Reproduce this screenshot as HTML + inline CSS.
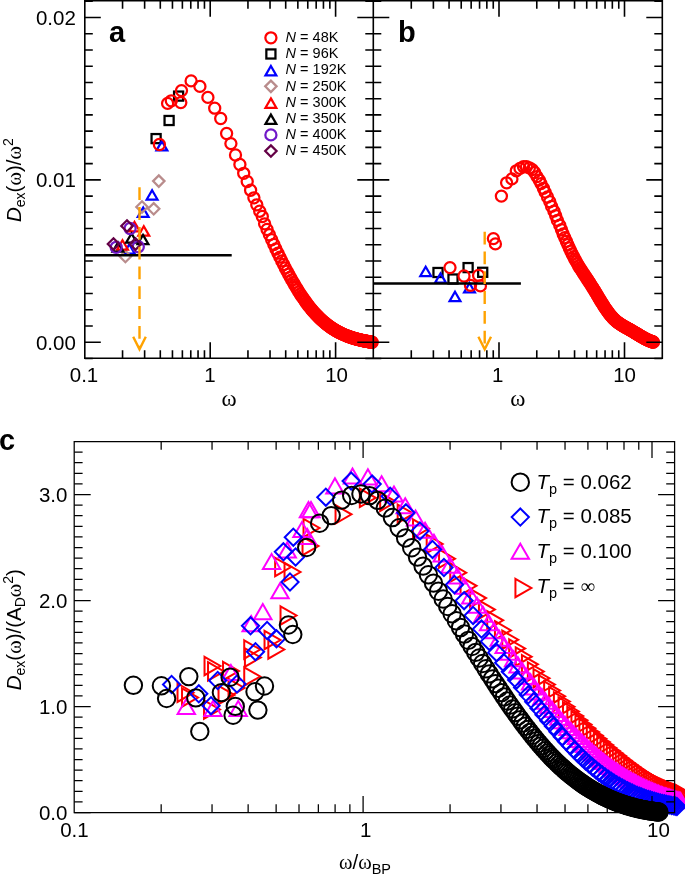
<!DOCTYPE html><html><head><meta charset="utf-8"><title>figure</title><style>html,body{margin:0;padding:0;background:#fff;overflow:hidden;}svg{display:block;will-change:transform;}text{font-family:"Liberation Sans",sans-serif;}</style></head><body>
<svg width="685" height="875" viewBox="0 0 685 875">
<rect x="151.55" y="134.05" width="9.1" height="9.1" stroke="#000" stroke-width="2.25" fill="none"/><rect x="164.55" y="115.95" width="9.1" height="9.1" stroke="#000" stroke-width="2.25" fill="none"/><rect x="174.05" y="91.55" width="9.1" height="9.1" stroke="#000" stroke-width="2.25" fill="none"/><path d="M161.9 141.09L167.3 150.44L156.5 150.44Z" stroke="#0000ff" stroke-width="2.25" fill="none"/><path d="M152.1 190.19L157.5 199.54L146.7 199.54Z" stroke="#0000ff" stroke-width="2.25" fill="none"/><path d="M143.2 207.49L148.6 216.84L137.8 216.84Z" stroke="#0000ff" stroke-width="2.25" fill="none"/><path d="M129.3 244.29L134.7 253.64L123.9 253.64Z" stroke="#0000ff" stroke-width="2.25" fill="none"/><path d="M158.8 175.4L164.5 181.1L158.8 186.8L153.1 181.1Z" stroke="#b98c8c" stroke-width="2.25" fill="none"/><path d="M142 201.3L147.7 207L142 212.7L136.3 207Z" stroke="#b98c8c" stroke-width="2.25" fill="none"/><path d="M153.7 203.1L159.4 208.8L153.7 214.5L148 208.8Z" stroke="#b98c8c" stroke-width="2.25" fill="none"/><path d="M125.4 250.8L131.1 256.5L125.4 262.2L119.7 256.5Z" stroke="#b98c8c" stroke-width="2.25" fill="none"/><path d="M122.5 240.19L127.9 249.54L117.1 249.54Z" stroke="#ff0000" stroke-width="2.25" fill="none"/><path d="M134.5 222.09L139.9 231.44L129.1 231.44Z" stroke="#ff0000" stroke-width="2.25" fill="none"/><path d="M143.8 226.29L149.2 235.64L138.4 235.64Z" stroke="#ff0000" stroke-width="2.25" fill="none"/><path d="M118 242.39L123.4 251.74L112.6 251.74Z" stroke="#000" stroke-width="2.25" fill="none"/><path d="M131.5 233.39L136.9 242.74L126.1 242.74Z" stroke="#000" stroke-width="2.25" fill="none"/><path d="M143 234.89L148.4 244.24L137.6 244.24Z" stroke="#000" stroke-width="2.25" fill="none"/><circle cx="116.2" cy="247.3" r="5.55" stroke="#7018c8" stroke-width="2.25" fill="none"/><circle cx="130.1" cy="228.5" r="5.55" stroke="#7018c8" stroke-width="2.25" fill="none"/><circle cx="138.3" cy="246.7" r="5.55" stroke="#7018c8" stroke-width="2.25" fill="none"/><path d="M113.5 238.3L119.2 244L113.5 249.7L107.8 244Z" stroke="#640046" stroke-width="2.25" fill="none"/><path d="M127 220.3L132.7 226L127 231.7L121.3 226Z" stroke="#640046" stroke-width="2.25" fill="none"/><path d="M135.5 238.4L141.2 244.1L135.5 249.8L129.8 244.1Z" stroke="#640046" stroke-width="2.25" fill="none"/><circle cx="159.4" cy="144.5" r="5.55" stroke="#ff0000" stroke-width="2.25" fill="none"/><circle cx="167.6" cy="103.4" r="5.55" stroke="#ff0000" stroke-width="2.25" fill="none"/><circle cx="171.3" cy="100.8" r="5.55" stroke="#ff0000" stroke-width="2.25" fill="none"/><circle cx="180.8" cy="102.6" r="5.55" stroke="#ff0000" stroke-width="2.25" fill="none"/><circle cx="181.5" cy="90.6" r="5.55" stroke="#ff0000" stroke-width="2.25" fill="none"/><circle cx="191.1" cy="80.9" r="5.55" stroke="#ff0000" stroke-width="2.25" fill="none"/><circle cx="199.9" cy="86.4" r="5.55" stroke="#ff0000" stroke-width="2.25" fill="none"/><circle cx="207.9" cy="97.4" r="5.55" stroke="#ff0000" stroke-width="2.25" fill="none"/><circle cx="214.7" cy="108.2" r="5.55" stroke="#ff0000" stroke-width="2.25" fill="none"/><circle cx="220.7" cy="118.5" r="5.55" stroke="#ff0000" stroke-width="2.25" fill="none"/><circle cx="226.6" cy="133.5" r="5.55" stroke="#ff0000" stroke-width="2.25" fill="none"/><circle cx="230.9" cy="143.6" r="5.55" stroke="#ff0000" stroke-width="2.25" fill="none"/><circle cx="235.5" cy="155" r="5.55" stroke="#ff0000" stroke-width="2.25" fill="none"/><circle cx="239.9" cy="164.5" r="5.55" stroke="#ff0000" stroke-width="2.25" fill="none"/><circle cx="243.7" cy="173.3" r="5.55" stroke="#ff0000" stroke-width="2.25" fill="none"/><circle cx="247.2" cy="181.5" r="5.55" stroke="#ff0000" stroke-width="2.25" fill="none"/><circle cx="250.6" cy="190.2" r="5.55" stroke="#ff0000" stroke-width="2.25" fill="none"/><circle cx="253.9" cy="197.8" r="5.55" stroke="#ff0000" stroke-width="2.25" fill="none"/><circle cx="256.8" cy="204.8" r="5.55" stroke="#ff0000" stroke-width="2.25" fill="none"/><circle cx="259.7" cy="211.2" r="5.55" stroke="#ff0000" stroke-width="2.25" fill="none"/><circle cx="262.3" cy="216.5" r="5.55" stroke="#ff0000" stroke-width="2.25" fill="none"/><circle cx="264.6" cy="223.81" r="5.55" stroke="#ff0000" stroke-width="2.25" fill="none"/><circle cx="267.06" cy="229.45" r="5.55" stroke="#ff0000" stroke-width="2.25" fill="none"/><circle cx="269.42" cy="234.76" r="5.55" stroke="#ff0000" stroke-width="2.25" fill="none"/><circle cx="271.68" cy="239.77" r="5.55" stroke="#ff0000" stroke-width="2.25" fill="none"/><circle cx="273.85" cy="244.49" r="5.55" stroke="#ff0000" stroke-width="2.25" fill="none"/><circle cx="275.94" cy="248.95" r="5.55" stroke="#ff0000" stroke-width="2.25" fill="none"/><circle cx="277.95" cy="253.16" r="5.55" stroke="#ff0000" stroke-width="2.25" fill="none"/><circle cx="279.89" cy="257.15" r="5.55" stroke="#ff0000" stroke-width="2.25" fill="none"/><circle cx="281.76" cy="260.93" r="5.55" stroke="#ff0000" stroke-width="2.25" fill="none"/><circle cx="283.57" cy="264.51" r="5.55" stroke="#ff0000" stroke-width="2.25" fill="none"/><circle cx="285.32" cy="267.91" r="5.55" stroke="#ff0000" stroke-width="2.25" fill="none"/><circle cx="287.02" cy="271.14" r="5.55" stroke="#ff0000" stroke-width="2.25" fill="none"/><circle cx="288.66" cy="274.21" r="5.55" stroke="#ff0000" stroke-width="2.25" fill="none"/><circle cx="290.26" cy="277.12" r="5.55" stroke="#ff0000" stroke-width="2.25" fill="none"/><circle cx="291.81" cy="279.89" r="5.55" stroke="#ff0000" stroke-width="2.25" fill="none"/><circle cx="293.32" cy="282.53" r="5.55" stroke="#ff0000" stroke-width="2.25" fill="none"/><circle cx="294.79" cy="285.04" r="5.55" stroke="#ff0000" stroke-width="2.25" fill="none"/><circle cx="296.22" cy="287.43" r="5.55" stroke="#ff0000" stroke-width="2.25" fill="none"/><circle cx="297.61" cy="289.71" r="5.55" stroke="#ff0000" stroke-width="2.25" fill="none"/><circle cx="298.97" cy="291.88" r="5.55" stroke="#ff0000" stroke-width="2.25" fill="none"/><circle cx="300.29" cy="293.94" r="5.55" stroke="#ff0000" stroke-width="2.25" fill="none"/><circle cx="301.59" cy="295.91" r="5.55" stroke="#ff0000" stroke-width="2.25" fill="none"/><circle cx="302.85" cy="297.79" r="5.55" stroke="#ff0000" stroke-width="2.25" fill="none"/><circle cx="304.08" cy="299.58" r="5.55" stroke="#ff0000" stroke-width="2.25" fill="none"/><circle cx="305.29" cy="301.29" r="5.55" stroke="#ff0000" stroke-width="2.25" fill="none"/><circle cx="306.47" cy="302.92" r="5.55" stroke="#ff0000" stroke-width="2.25" fill="none"/><circle cx="307.63" cy="304.47" r="5.55" stroke="#ff0000" stroke-width="2.25" fill="none"/><circle cx="308.76" cy="305.95" r="5.55" stroke="#ff0000" stroke-width="2.25" fill="none"/><circle cx="309.87" cy="307.36" r="5.55" stroke="#ff0000" stroke-width="2.25" fill="none"/><circle cx="310.96" cy="308.7" r="5.55" stroke="#ff0000" stroke-width="2.25" fill="none"/><circle cx="312.02" cy="309.98" r="5.55" stroke="#ff0000" stroke-width="2.25" fill="none"/><circle cx="313.07" cy="311.21" r="5.55" stroke="#ff0000" stroke-width="2.25" fill="none"/><circle cx="314.09" cy="312.37" r="5.55" stroke="#ff0000" stroke-width="2.25" fill="none"/><circle cx="315.1" cy="313.49" r="5.55" stroke="#ff0000" stroke-width="2.25" fill="none"/><circle cx="316.09" cy="314.56" r="5.55" stroke="#ff0000" stroke-width="2.25" fill="none"/><circle cx="317.06" cy="315.58" r="5.55" stroke="#ff0000" stroke-width="2.25" fill="none"/><circle cx="318.01" cy="316.55" r="5.55" stroke="#ff0000" stroke-width="2.25" fill="none"/><circle cx="318.95" cy="317.49" r="5.55" stroke="#ff0000" stroke-width="2.25" fill="none"/><circle cx="319.87" cy="318.38" r="5.55" stroke="#ff0000" stroke-width="2.25" fill="none"/><circle cx="320.78" cy="319.24" r="5.55" stroke="#ff0000" stroke-width="2.25" fill="none"/><circle cx="321.67" cy="320.06" r="5.55" stroke="#ff0000" stroke-width="2.25" fill="none"/><circle cx="322.55" cy="320.85" r="5.55" stroke="#ff0000" stroke-width="2.25" fill="none"/><circle cx="323.41" cy="321.61" r="5.55" stroke="#ff0000" stroke-width="2.25" fill="none"/><circle cx="324.26" cy="322.33" r="5.55" stroke="#ff0000" stroke-width="2.25" fill="none"/><circle cx="325.1" cy="323.03" r="5.55" stroke="#ff0000" stroke-width="2.25" fill="none"/><circle cx="325.92" cy="323.7" r="5.55" stroke="#ff0000" stroke-width="2.25" fill="none"/><circle cx="326.73" cy="324.34" r="5.55" stroke="#ff0000" stroke-width="2.25" fill="none"/><circle cx="327.53" cy="324.96" r="5.55" stroke="#ff0000" stroke-width="2.25" fill="none"/><circle cx="328.32" cy="325.56" r="5.55" stroke="#ff0000" stroke-width="2.25" fill="none"/><circle cx="329.1" cy="326.13" r="5.55" stroke="#ff0000" stroke-width="2.25" fill="none"/><circle cx="329.86" cy="326.68" r="5.55" stroke="#ff0000" stroke-width="2.25" fill="none"/><circle cx="330.62" cy="327.21" r="5.55" stroke="#ff0000" stroke-width="2.25" fill="none"/><circle cx="331.36" cy="327.72" r="5.55" stroke="#ff0000" stroke-width="2.25" fill="none"/><circle cx="332.1" cy="328.21" r="5.55" stroke="#ff0000" stroke-width="2.25" fill="none"/><circle cx="332.82" cy="328.68" r="5.55" stroke="#ff0000" stroke-width="2.25" fill="none"/><circle cx="333.54" cy="329.14" r="5.55" stroke="#ff0000" stroke-width="2.25" fill="none"/><circle cx="334.25" cy="329.58" r="5.55" stroke="#ff0000" stroke-width="2.25" fill="none"/><circle cx="334.94" cy="330" r="5.55" stroke="#ff0000" stroke-width="2.25" fill="none"/><circle cx="335.63" cy="330.41" r="5.55" stroke="#ff0000" stroke-width="2.25" fill="none"/><circle cx="336.31" cy="330.81" r="5.55" stroke="#ff0000" stroke-width="2.25" fill="none"/><circle cx="336.98" cy="331.19" r="5.55" stroke="#ff0000" stroke-width="2.25" fill="none"/><circle cx="337.65" cy="331.55" r="5.55" stroke="#ff0000" stroke-width="2.25" fill="none"/><circle cx="338.3" cy="331.91" r="5.55" stroke="#ff0000" stroke-width="2.25" fill="none"/><circle cx="338.95" cy="332.25" r="5.55" stroke="#ff0000" stroke-width="2.25" fill="none"/><circle cx="339.59" cy="332.58" r="5.55" stroke="#ff0000" stroke-width="2.25" fill="none"/><circle cx="340.22" cy="332.9" r="5.55" stroke="#ff0000" stroke-width="2.25" fill="none"/><circle cx="340.85" cy="333.21" r="5.55" stroke="#ff0000" stroke-width="2.25" fill="none"/><circle cx="341.47" cy="333.51" r="5.55" stroke="#ff0000" stroke-width="2.25" fill="none"/><circle cx="342.08" cy="333.8" r="5.55" stroke="#ff0000" stroke-width="2.25" fill="none"/><circle cx="342.68" cy="334.08" r="5.55" stroke="#ff0000" stroke-width="2.25" fill="none"/><circle cx="343.28" cy="334.35" r="5.55" stroke="#ff0000" stroke-width="2.25" fill="none"/><circle cx="343.87" cy="334.61" r="5.55" stroke="#ff0000" stroke-width="2.25" fill="none"/><circle cx="344.46" cy="334.86" r="5.55" stroke="#ff0000" stroke-width="2.25" fill="none"/><circle cx="345.03" cy="335.11" r="5.55" stroke="#ff0000" stroke-width="2.25" fill="none"/><circle cx="345.61" cy="335.35" r="5.55" stroke="#ff0000" stroke-width="2.25" fill="none"/><circle cx="346.17" cy="335.58" r="5.55" stroke="#ff0000" stroke-width="2.25" fill="none"/><circle cx="346.73" cy="335.8" r="5.55" stroke="#ff0000" stroke-width="2.25" fill="none"/><circle cx="347.29" cy="336.02" r="5.55" stroke="#ff0000" stroke-width="2.25" fill="none"/><circle cx="347.84" cy="336.23" r="5.55" stroke="#ff0000" stroke-width="2.25" fill="none"/><circle cx="348.38" cy="336.43" r="5.55" stroke="#ff0000" stroke-width="2.25" fill="none"/><circle cx="348.92" cy="336.63" r="5.55" stroke="#ff0000" stroke-width="2.25" fill="none"/><circle cx="349.45" cy="336.82" r="5.55" stroke="#ff0000" stroke-width="2.25" fill="none"/><circle cx="349.98" cy="337" r="5.55" stroke="#ff0000" stroke-width="2.25" fill="none"/><circle cx="350.51" cy="337.18" r="5.55" stroke="#ff0000" stroke-width="2.25" fill="none"/><circle cx="351.02" cy="337.36" r="5.55" stroke="#ff0000" stroke-width="2.25" fill="none"/><circle cx="351.54" cy="337.53" r="5.55" stroke="#ff0000" stroke-width="2.25" fill="none"/><circle cx="352.05" cy="337.69" r="5.55" stroke="#ff0000" stroke-width="2.25" fill="none"/><circle cx="352.55" cy="337.85" r="5.55" stroke="#ff0000" stroke-width="2.25" fill="none"/><circle cx="353.05" cy="338.01" r="5.55" stroke="#ff0000" stroke-width="2.25" fill="none"/><circle cx="353.54" cy="338.16" r="5.55" stroke="#ff0000" stroke-width="2.25" fill="none"/><circle cx="354.03" cy="338.31" r="5.55" stroke="#ff0000" stroke-width="2.25" fill="none"/><circle cx="354.52" cy="338.45" r="5.55" stroke="#ff0000" stroke-width="2.25" fill="none"/><circle cx="355" cy="338.59" r="5.55" stroke="#ff0000" stroke-width="2.25" fill="none"/><circle cx="355.48" cy="338.73" r="5.55" stroke="#ff0000" stroke-width="2.25" fill="none"/><circle cx="355.95" cy="338.86" r="5.55" stroke="#ff0000" stroke-width="2.25" fill="none"/><circle cx="356.42" cy="338.99" r="5.55" stroke="#ff0000" stroke-width="2.25" fill="none"/><circle cx="356.89" cy="339.11" r="5.55" stroke="#ff0000" stroke-width="2.25" fill="none"/><circle cx="357.35" cy="339.23" r="5.55" stroke="#ff0000" stroke-width="2.25" fill="none"/><circle cx="357.8" cy="339.35" r="5.55" stroke="#ff0000" stroke-width="2.25" fill="none"/><circle cx="358.26" cy="339.47" r="5.55" stroke="#ff0000" stroke-width="2.25" fill="none"/><circle cx="358.71" cy="339.58" r="5.55" stroke="#ff0000" stroke-width="2.25" fill="none"/><circle cx="359.15" cy="339.69" r="5.55" stroke="#ff0000" stroke-width="2.25" fill="none"/><circle cx="359.6" cy="339.8" r="5.55" stroke="#ff0000" stroke-width="2.25" fill="none"/><circle cx="360.03" cy="339.9" r="5.55" stroke="#ff0000" stroke-width="2.25" fill="none"/><circle cx="360.47" cy="340" r="5.55" stroke="#ff0000" stroke-width="2.25" fill="none"/><circle cx="360.9" cy="340.1" r="5.55" stroke="#ff0000" stroke-width="2.25" fill="none"/><circle cx="361.33" cy="340.2" r="5.55" stroke="#ff0000" stroke-width="2.25" fill="none"/><circle cx="361.76" cy="340.3" r="5.55" stroke="#ff0000" stroke-width="2.25" fill="none"/><circle cx="362.18" cy="340.39" r="5.55" stroke="#ff0000" stroke-width="2.25" fill="none"/><circle cx="362.6" cy="340.48" r="5.55" stroke="#ff0000" stroke-width="2.25" fill="none"/><circle cx="363.01" cy="340.57" r="5.55" stroke="#ff0000" stroke-width="2.25" fill="none"/><circle cx="363.42" cy="340.66" r="5.55" stroke="#ff0000" stroke-width="2.25" fill="none"/><circle cx="363.83" cy="340.74" r="5.55" stroke="#ff0000" stroke-width="2.25" fill="none"/><circle cx="364.24" cy="340.82" r="5.55" stroke="#ff0000" stroke-width="2.25" fill="none"/><circle cx="364.64" cy="340.91" r="5.55" stroke="#ff0000" stroke-width="2.25" fill="none"/><circle cx="365.04" cy="340.99" r="5.55" stroke="#ff0000" stroke-width="2.25" fill="none"/><circle cx="365.44" cy="341.06" r="5.55" stroke="#ff0000" stroke-width="2.25" fill="none"/><circle cx="365.83" cy="341.14" r="5.55" stroke="#ff0000" stroke-width="2.25" fill="none"/><circle cx="366.23" cy="341.22" r="5.55" stroke="#ff0000" stroke-width="2.25" fill="none"/><circle cx="366.61" cy="341.29" r="5.55" stroke="#ff0000" stroke-width="2.25" fill="none"/><circle cx="367" cy="341.36" r="5.55" stroke="#ff0000" stroke-width="2.25" fill="none"/><circle cx="367.38" cy="341.43" r="5.55" stroke="#ff0000" stroke-width="2.25" fill="none"/><circle cx="367.76" cy="341.5" r="5.55" stroke="#ff0000" stroke-width="2.25" fill="none"/><circle cx="368.14" cy="341.57" r="5.55" stroke="#ff0000" stroke-width="2.25" fill="none"/><circle cx="368.52" cy="341.64" r="5.55" stroke="#ff0000" stroke-width="2.25" fill="none"/><circle cx="368.89" cy="341.71" r="5.55" stroke="#ff0000" stroke-width="2.25" fill="none"/><circle cx="369.26" cy="341.77" r="5.55" stroke="#ff0000" stroke-width="2.25" fill="none"/><circle cx="369.63" cy="341.84" r="5.55" stroke="#ff0000" stroke-width="2.25" fill="none"/><circle cx="369.99" cy="341.9" r="5.55" stroke="#ff0000" stroke-width="2.25" fill="none"/><circle cx="370.36" cy="341.96" r="5.55" stroke="#ff0000" stroke-width="2.25" fill="none"/><circle cx="370.72" cy="342.02" r="5.55" stroke="#ff0000" stroke-width="2.25" fill="none"/><circle cx="371.07" cy="342.08" r="5.55" stroke="#ff0000" stroke-width="2.25" fill="none"/><circle cx="371.43" cy="342.14" r="5.55" stroke="#ff0000" stroke-width="2.25" fill="none"/><circle cx="371.78" cy="342.2" r="5.55" stroke="#ff0000" stroke-width="2.25" fill="none"/><circle cx="372.13" cy="342.26" r="5.55" stroke="#ff0000" stroke-width="2.25" fill="none"/>
<circle cx="270.9" cy="37.8" r="5.55" stroke="#ff0000" stroke-width="2.25" fill="none"/>
<text x="285.6" y="42.1" font-size="14.5"><tspan font-style="italic">N</tspan> = 48K</text>
<rect x="266.35" y="49.43" width="9.1" height="9.1" stroke="#000" stroke-width="2.25" fill="none"/>
<text x="285.6" y="58.28" font-size="14.5"><tspan font-style="italic">N</tspan> = 96K</text>
<path d="M270.9 66.05L276.3 75.4L265.5 75.4Z" stroke="#0000ff" stroke-width="2.25" fill="none"/>
<text x="285.6" y="74.46" font-size="14.5"><tspan font-style="italic">N</tspan> = 192K</text>
<path d="M270.9 80.64L276.6 86.34L270.9 92.04L265.2 86.34Z" stroke="#b98c8c" stroke-width="2.25" fill="none"/>
<text x="285.6" y="90.64" font-size="14.5"><tspan font-style="italic">N</tspan> = 250K</text>
<path d="M270.9 98.41L276.3 107.76L265.5 107.76Z" stroke="#ff0000" stroke-width="2.25" fill="none"/>
<text x="285.6" y="106.82" font-size="14.5"><tspan font-style="italic">N</tspan> = 300K</text>
<path d="M270.9 114.59L276.3 123.94L265.5 123.94Z" stroke="#000" stroke-width="2.25" fill="none"/>
<text x="285.6" y="123" font-size="14.5"><tspan font-style="italic">N</tspan> = 350K</text>
<circle cx="270.9" cy="134.88" r="5.55" stroke="#7018c8" stroke-width="2.25" fill="none"/>
<text x="285.6" y="139.18" font-size="14.5"><tspan font-style="italic">N</tspan> = 400K</text>
<path d="M270.9 145.36L276.6 151.06L270.9 156.76L265.2 151.06Z" stroke="#640046" stroke-width="2.25" fill="none"/>
<text x="285.6" y="155.36" font-size="14.5"><tspan font-style="italic">N</tspan> = 450K</text>
<rect x="433.45" y="267.95" width="9.1" height="9.1" stroke="#000" stroke-width="2.25" fill="none"/><rect x="448.45" y="274.45" width="9.1" height="9.1" stroke="#000" stroke-width="2.25" fill="none"/><rect x="463.55" y="263.05" width="9.1" height="9.1" stroke="#000" stroke-width="2.25" fill="none"/><rect x="478.15" y="267.75" width="9.1" height="9.1" stroke="#000" stroke-width="2.25" fill="none"/><path d="M425.7 266.69L431.1 276.04L420.3 276.04Z" stroke="#0000ff" stroke-width="2.25" fill="none"/><path d="M440.5 273.39L445.9 282.74L435.1 282.74Z" stroke="#0000ff" stroke-width="2.25" fill="none"/><path d="M455 291.79L460.4 301.14L449.6 301.14Z" stroke="#0000ff" stroke-width="2.25" fill="none"/><path d="M469.5 282.99L474.9 292.34L464.1 292.34Z" stroke="#0000ff" stroke-width="2.25" fill="none"/><circle cx="450" cy="267.6" r="5.55" stroke="#ff0000" stroke-width="2.25" fill="none"/><circle cx="464" cy="276" r="5.55" stroke="#ff0000" stroke-width="2.25" fill="none"/><circle cx="470.5" cy="285.4" r="5.55" stroke="#ff0000" stroke-width="2.25" fill="none"/><circle cx="478.6" cy="275.4" r="5.55" stroke="#ff0000" stroke-width="2.25" fill="none"/><circle cx="480.4" cy="285.9" r="5.55" stroke="#ff0000" stroke-width="2.25" fill="none"/><circle cx="493.4" cy="238.6" r="5.55" stroke="#ff0000" stroke-width="2.25" fill="none"/><circle cx="495.4" cy="243.9" r="5.55" stroke="#ff0000" stroke-width="2.25" fill="none"/><circle cx="501.4" cy="196.1" r="5.55" stroke="#ff0000" stroke-width="2.25" fill="none"/><circle cx="506.6" cy="182.8" r="5.55" stroke="#ff0000" stroke-width="2.25" fill="none"/><circle cx="511.9" cy="178.9" r="5.55" stroke="#ff0000" stroke-width="2.25" fill="none"/><circle cx="516.3" cy="170.8" r="5.55" stroke="#ff0000" stroke-width="2.25" fill="none"/><circle cx="520" cy="168.4" r="5.55" stroke="#ff0000" stroke-width="2.25" fill="none"/><circle cx="523.5" cy="166.7" r="5.55" stroke="#ff0000" stroke-width="2.25" fill="none"/><circle cx="526.5" cy="166.7" r="5.55" stroke="#ff0000" stroke-width="2.25" fill="none"/><circle cx="529.4" cy="167.8" r="5.55" stroke="#ff0000" stroke-width="2.25" fill="none"/><circle cx="532.3" cy="169.6" r="5.55" stroke="#ff0000" stroke-width="2.25" fill="none"/><circle cx="534.6" cy="172.5" r="5.55" stroke="#ff0000" stroke-width="2.25" fill="none"/><circle cx="537" cy="176.6" r="5.55" stroke="#ff0000" stroke-width="2.25" fill="none"/><circle cx="539.3" cy="180.1" r="5.55" stroke="#ff0000" stroke-width="2.25" fill="none"/><circle cx="541" cy="183.6" r="5.55" stroke="#ff0000" stroke-width="2.25" fill="none"/><circle cx="543.4" cy="188.3" r="5.55" stroke="#ff0000" stroke-width="2.25" fill="none"/><circle cx="545.1" cy="192.1" r="5.55" stroke="#ff0000" stroke-width="2.25" fill="none"/><circle cx="547.5" cy="197" r="5.55" stroke="#ff0000" stroke-width="2.25" fill="none"/><circle cx="549.8" cy="201.7" r="5.55" stroke="#ff0000" stroke-width="2.25" fill="none"/><circle cx="551.6" cy="206.4" r="5.55" stroke="#ff0000" stroke-width="2.25" fill="none"/><circle cx="553.9" cy="211.1" r="5.55" stroke="#ff0000" stroke-width="2.25" fill="none"/><circle cx="555.7" cy="215.7" r="5.55" stroke="#ff0000" stroke-width="2.25" fill="none"/><circle cx="557.4" cy="220.4" r="5.55" stroke="#ff0000" stroke-width="2.25" fill="none"/><circle cx="559.7" cy="225.1" r="5.55" stroke="#ff0000" stroke-width="2.25" fill="none"/><circle cx="561.5" cy="229.7" r="5.55" stroke="#ff0000" stroke-width="2.25" fill="none"/><circle cx="563.17" cy="233.93" r="5.55" stroke="#ff0000" stroke-width="2.25" fill="none"/><circle cx="564.78" cy="237.71" r="5.55" stroke="#ff0000" stroke-width="2.25" fill="none"/><circle cx="566.35" cy="241.32" r="5.55" stroke="#ff0000" stroke-width="2.25" fill="none"/><circle cx="567.87" cy="244.75" r="5.55" stroke="#ff0000" stroke-width="2.25" fill="none"/><circle cx="569.35" cy="248.01" r="5.55" stroke="#ff0000" stroke-width="2.25" fill="none"/><circle cx="570.79" cy="251.09" r="5.55" stroke="#ff0000" stroke-width="2.25" fill="none"/><circle cx="572.2" cy="253.99" r="5.55" stroke="#ff0000" stroke-width="2.25" fill="none"/><circle cx="573.57" cy="256.72" r="5.55" stroke="#ff0000" stroke-width="2.25" fill="none"/><circle cx="574.9" cy="259.26" r="5.55" stroke="#ff0000" stroke-width="2.25" fill="none"/><circle cx="576.21" cy="261.64" r="5.55" stroke="#ff0000" stroke-width="2.25" fill="none"/><circle cx="577.48" cy="263.86" r="5.55" stroke="#ff0000" stroke-width="2.25" fill="none"/><circle cx="578.73" cy="265.96" r="5.55" stroke="#ff0000" stroke-width="2.25" fill="none"/><circle cx="579.94" cy="267.94" r="5.55" stroke="#ff0000" stroke-width="2.25" fill="none"/><circle cx="581.14" cy="269.83" r="5.55" stroke="#ff0000" stroke-width="2.25" fill="none"/><circle cx="582.3" cy="271.64" r="5.55" stroke="#ff0000" stroke-width="2.25" fill="none"/><circle cx="583.44" cy="273.39" r="5.55" stroke="#ff0000" stroke-width="2.25" fill="none"/><circle cx="584.56" cy="275.08" r="5.55" stroke="#ff0000" stroke-width="2.25" fill="none"/><circle cx="585.65" cy="276.72" r="5.55" stroke="#ff0000" stroke-width="2.25" fill="none"/><circle cx="586.73" cy="278.34" r="5.55" stroke="#ff0000" stroke-width="2.25" fill="none"/><circle cx="587.78" cy="279.93" r="5.55" stroke="#ff0000" stroke-width="2.25" fill="none"/><circle cx="588.81" cy="281.5" r="5.55" stroke="#ff0000" stroke-width="2.25" fill="none"/><circle cx="589.82" cy="283.06" r="5.55" stroke="#ff0000" stroke-width="2.25" fill="none"/><circle cx="590.82" cy="284.62" r="5.55" stroke="#ff0000" stroke-width="2.25" fill="none"/><circle cx="591.8" cy="286.18" r="5.55" stroke="#ff0000" stroke-width="2.25" fill="none"/><circle cx="592.76" cy="287.73" r="5.55" stroke="#ff0000" stroke-width="2.25" fill="none"/><circle cx="593.7" cy="289.28" r="5.55" stroke="#ff0000" stroke-width="2.25" fill="none"/><circle cx="594.63" cy="290.81" r="5.55" stroke="#ff0000" stroke-width="2.25" fill="none"/><circle cx="595.54" cy="292.33" r="5.55" stroke="#ff0000" stroke-width="2.25" fill="none"/><circle cx="596.43" cy="293.83" r="5.55" stroke="#ff0000" stroke-width="2.25" fill="none"/><circle cx="597.32" cy="295.3" r="5.55" stroke="#ff0000" stroke-width="2.25" fill="none"/><circle cx="598.19" cy="296.75" r="5.55" stroke="#ff0000" stroke-width="2.25" fill="none"/><circle cx="599.04" cy="298.17" r="5.55" stroke="#ff0000" stroke-width="2.25" fill="none"/><circle cx="599.88" cy="299.57" r="5.55" stroke="#ff0000" stroke-width="2.25" fill="none"/><circle cx="600.71" cy="300.93" r="5.55" stroke="#ff0000" stroke-width="2.25" fill="none"/><circle cx="601.53" cy="302.26" r="5.55" stroke="#ff0000" stroke-width="2.25" fill="none"/><circle cx="602.33" cy="303.55" r="5.55" stroke="#ff0000" stroke-width="2.25" fill="none"/><circle cx="603.12" cy="304.81" r="5.55" stroke="#ff0000" stroke-width="2.25" fill="none"/><circle cx="603.9" cy="306.04" r="5.55" stroke="#ff0000" stroke-width="2.25" fill="none"/><circle cx="604.67" cy="307.22" r="5.55" stroke="#ff0000" stroke-width="2.25" fill="none"/><circle cx="605.43" cy="308.36" r="5.55" stroke="#ff0000" stroke-width="2.25" fill="none"/><circle cx="606.18" cy="309.47" r="5.55" stroke="#ff0000" stroke-width="2.25" fill="none"/><circle cx="606.92" cy="310.54" r="5.55" stroke="#ff0000" stroke-width="2.25" fill="none"/><circle cx="607.65" cy="311.56" r="5.55" stroke="#ff0000" stroke-width="2.25" fill="none"/><circle cx="608.37" cy="312.55" r="5.55" stroke="#ff0000" stroke-width="2.25" fill="none"/><circle cx="609.08" cy="313.49" r="5.55" stroke="#ff0000" stroke-width="2.25" fill="none"/><circle cx="609.78" cy="314.39" r="5.55" stroke="#ff0000" stroke-width="2.25" fill="none"/><circle cx="610.47" cy="315.25" r="5.55" stroke="#ff0000" stroke-width="2.25" fill="none"/><circle cx="611.15" cy="316.06" r="5.55" stroke="#ff0000" stroke-width="2.25" fill="none"/><circle cx="611.83" cy="316.84" r="5.55" stroke="#ff0000" stroke-width="2.25" fill="none"/><circle cx="612.49" cy="317.57" r="5.55" stroke="#ff0000" stroke-width="2.25" fill="none"/><circle cx="613.15" cy="318.26" r="5.55" stroke="#ff0000" stroke-width="2.25" fill="none"/><circle cx="613.8" cy="318.91" r="5.55" stroke="#ff0000" stroke-width="2.25" fill="none"/><circle cx="614.45" cy="319.53" r="5.55" stroke="#ff0000" stroke-width="2.25" fill="none"/><circle cx="615.08" cy="320.12" r="5.55" stroke="#ff0000" stroke-width="2.25" fill="none"/><circle cx="615.71" cy="320.68" r="5.55" stroke="#ff0000" stroke-width="2.25" fill="none"/><circle cx="616.33" cy="321.21" r="5.55" stroke="#ff0000" stroke-width="2.25" fill="none"/><circle cx="616.94" cy="321.71" r="5.55" stroke="#ff0000" stroke-width="2.25" fill="none"/><circle cx="617.55" cy="322.19" r="5.55" stroke="#ff0000" stroke-width="2.25" fill="none"/><circle cx="618.15" cy="322.64" r="5.55" stroke="#ff0000" stroke-width="2.25" fill="none"/><circle cx="618.75" cy="323.08" r="5.55" stroke="#ff0000" stroke-width="2.25" fill="none"/><circle cx="619.33" cy="323.5" r="5.55" stroke="#ff0000" stroke-width="2.25" fill="none"/><circle cx="619.91" cy="323.9" r="5.55" stroke="#ff0000" stroke-width="2.25" fill="none"/><circle cx="620.49" cy="324.28" r="5.55" stroke="#ff0000" stroke-width="2.25" fill="none"/><circle cx="621.06" cy="324.65" r="5.55" stroke="#ff0000" stroke-width="2.25" fill="none"/><circle cx="621.62" cy="325.01" r="5.55" stroke="#ff0000" stroke-width="2.25" fill="none"/><circle cx="622.18" cy="325.35" r="5.55" stroke="#ff0000" stroke-width="2.25" fill="none"/><circle cx="622.73" cy="325.68" r="5.55" stroke="#ff0000" stroke-width="2.25" fill="none"/><circle cx="623.28" cy="326.01" r="5.55" stroke="#ff0000" stroke-width="2.25" fill="none"/><circle cx="623.82" cy="326.32" r="5.55" stroke="#ff0000" stroke-width="2.25" fill="none"/><circle cx="624.35" cy="326.63" r="5.55" stroke="#ff0000" stroke-width="2.25" fill="none"/><circle cx="624.88" cy="326.93" r="5.55" stroke="#ff0000" stroke-width="2.25" fill="none"/><circle cx="625.41" cy="327.22" r="5.55" stroke="#ff0000" stroke-width="2.25" fill="none"/><circle cx="625.93" cy="327.51" r="5.55" stroke="#ff0000" stroke-width="2.25" fill="none"/><circle cx="626.44" cy="327.79" r="5.55" stroke="#ff0000" stroke-width="2.25" fill="none"/><circle cx="626.95" cy="328.07" r="5.55" stroke="#ff0000" stroke-width="2.25" fill="none"/><circle cx="627.46" cy="328.35" r="5.55" stroke="#ff0000" stroke-width="2.25" fill="none"/><circle cx="627.96" cy="328.63" r="5.55" stroke="#ff0000" stroke-width="2.25" fill="none"/><circle cx="628.46" cy="328.9" r="5.55" stroke="#ff0000" stroke-width="2.25" fill="none"/><circle cx="628.95" cy="329.17" r="5.55" stroke="#ff0000" stroke-width="2.25" fill="none"/><circle cx="629.44" cy="329.44" r="5.55" stroke="#ff0000" stroke-width="2.25" fill="none"/><circle cx="629.92" cy="329.71" r="5.55" stroke="#ff0000" stroke-width="2.25" fill="none"/><circle cx="630.4" cy="329.99" r="5.55" stroke="#ff0000" stroke-width="2.25" fill="none"/><circle cx="630.87" cy="330.26" r="5.55" stroke="#ff0000" stroke-width="2.25" fill="none"/><circle cx="631.34" cy="330.53" r="5.55" stroke="#ff0000" stroke-width="2.25" fill="none"/><circle cx="631.81" cy="330.81" r="5.55" stroke="#ff0000" stroke-width="2.25" fill="none"/><circle cx="632.27" cy="331.08" r="5.55" stroke="#ff0000" stroke-width="2.25" fill="none"/><circle cx="632.73" cy="331.35" r="5.55" stroke="#ff0000" stroke-width="2.25" fill="none"/><circle cx="633.19" cy="331.62" r="5.55" stroke="#ff0000" stroke-width="2.25" fill="none"/><circle cx="633.64" cy="331.9" r="5.55" stroke="#ff0000" stroke-width="2.25" fill="none"/><circle cx="634.09" cy="332.17" r="5.55" stroke="#ff0000" stroke-width="2.25" fill="none"/><circle cx="634.53" cy="332.43" r="5.55" stroke="#ff0000" stroke-width="2.25" fill="none"/><circle cx="634.97" cy="332.7" r="5.55" stroke="#ff0000" stroke-width="2.25" fill="none"/><circle cx="635.41" cy="332.97" r="5.55" stroke="#ff0000" stroke-width="2.25" fill="none"/><circle cx="635.84" cy="333.23" r="5.55" stroke="#ff0000" stroke-width="2.25" fill="none"/><circle cx="636.27" cy="333.49" r="5.55" stroke="#ff0000" stroke-width="2.25" fill="none"/><circle cx="636.7" cy="333.75" r="5.55" stroke="#ff0000" stroke-width="2.25" fill="none"/><circle cx="637.12" cy="334.01" r="5.55" stroke="#ff0000" stroke-width="2.25" fill="none"/><circle cx="637.54" cy="334.26" r="5.55" stroke="#ff0000" stroke-width="2.25" fill="none"/><circle cx="637.96" cy="334.52" r="5.55" stroke="#ff0000" stroke-width="2.25" fill="none"/><circle cx="638.37" cy="334.77" r="5.55" stroke="#ff0000" stroke-width="2.25" fill="none"/><circle cx="638.78" cy="335.02" r="5.55" stroke="#ff0000" stroke-width="2.25" fill="none"/><circle cx="639.19" cy="335.26" r="5.55" stroke="#ff0000" stroke-width="2.25" fill="none"/><circle cx="639.59" cy="335.5" r="5.55" stroke="#ff0000" stroke-width="2.25" fill="none"/><circle cx="639.99" cy="335.74" r="5.55" stroke="#ff0000" stroke-width="2.25" fill="none"/><circle cx="640.39" cy="335.98" r="5.55" stroke="#ff0000" stroke-width="2.25" fill="none"/><circle cx="640.79" cy="336.21" r="5.55" stroke="#ff0000" stroke-width="2.25" fill="none"/><circle cx="641.18" cy="336.44" r="5.55" stroke="#ff0000" stroke-width="2.25" fill="none"/><circle cx="641.57" cy="336.67" r="5.55" stroke="#ff0000" stroke-width="2.25" fill="none"/><circle cx="641.96" cy="336.89" r="5.55" stroke="#ff0000" stroke-width="2.25" fill="none"/><circle cx="642.34" cy="337.11" r="5.55" stroke="#ff0000" stroke-width="2.25" fill="none"/><circle cx="642.72" cy="337.33" r="5.55" stroke="#ff0000" stroke-width="2.25" fill="none"/><circle cx="643.1" cy="337.54" r="5.55" stroke="#ff0000" stroke-width="2.25" fill="none"/><circle cx="643.48" cy="337.75" r="5.55" stroke="#ff0000" stroke-width="2.25" fill="none"/><circle cx="643.85" cy="337.96" r="5.55" stroke="#ff0000" stroke-width="2.25" fill="none"/><circle cx="644.22" cy="338.16" r="5.55" stroke="#ff0000" stroke-width="2.25" fill="none"/><circle cx="644.59" cy="338.36" r="5.55" stroke="#ff0000" stroke-width="2.25" fill="none"/><circle cx="644.96" cy="338.55" r="5.55" stroke="#ff0000" stroke-width="2.25" fill="none"/><circle cx="645.32" cy="338.74" r="5.55" stroke="#ff0000" stroke-width="2.25" fill="none"/><circle cx="645.69" cy="338.93" r="5.55" stroke="#ff0000" stroke-width="2.25" fill="none"/><circle cx="646.04" cy="339.11" r="5.55" stroke="#ff0000" stroke-width="2.25" fill="none"/><circle cx="646.4" cy="339.29" r="5.55" stroke="#ff0000" stroke-width="2.25" fill="none"/><circle cx="646.76" cy="339.47" r="5.55" stroke="#ff0000" stroke-width="2.25" fill="none"/><circle cx="647.11" cy="339.64" r="5.55" stroke="#ff0000" stroke-width="2.25" fill="none"/><circle cx="647.46" cy="339.81" r="5.55" stroke="#ff0000" stroke-width="2.25" fill="none"/><circle cx="647.81" cy="339.97" r="5.55" stroke="#ff0000" stroke-width="2.25" fill="none"/><circle cx="648.15" cy="340.13" r="5.55" stroke="#ff0000" stroke-width="2.25" fill="none"/><circle cx="648.49" cy="340.29" r="5.55" stroke="#ff0000" stroke-width="2.25" fill="none"/><circle cx="648.83" cy="340.44" r="5.55" stroke="#ff0000" stroke-width="2.25" fill="none"/><circle cx="649.17" cy="340.59" r="5.55" stroke="#ff0000" stroke-width="2.25" fill="none"/><circle cx="649.51" cy="340.73" r="5.55" stroke="#ff0000" stroke-width="2.25" fill="none"/><circle cx="649.85" cy="340.87" r="5.55" stroke="#ff0000" stroke-width="2.25" fill="none"/><circle cx="650.18" cy="341.01" r="5.55" stroke="#ff0000" stroke-width="2.25" fill="none"/><circle cx="650.51" cy="341.14" r="5.55" stroke="#ff0000" stroke-width="2.25" fill="none"/><circle cx="650.84" cy="341.26" r="5.55" stroke="#ff0000" stroke-width="2.25" fill="none"/><circle cx="651.16" cy="341.39" r="5.55" stroke="#ff0000" stroke-width="2.25" fill="none"/><circle cx="651.49" cy="341.51" r="5.55" stroke="#ff0000" stroke-width="2.25" fill="none"/><circle cx="651.81" cy="341.62" r="5.55" stroke="#ff0000" stroke-width="2.25" fill="none"/><circle cx="652.13" cy="341.73" r="5.55" stroke="#ff0000" stroke-width="2.25" fill="none"/><circle cx="652.45" cy="341.84" r="5.55" stroke="#ff0000" stroke-width="2.25" fill="none"/><circle cx="652.77" cy="341.94" r="5.55" stroke="#ff0000" stroke-width="2.25" fill="none"/><circle cx="653.09" cy="342.04" r="5.55" stroke="#ff0000" stroke-width="2.25" fill="none"/><circle cx="653.4" cy="342.13" r="5.55" stroke="#ff0000" stroke-width="2.25" fill="none"/>
<path d="M84.8 255.3H231.7M373.3 283.4H520.9" stroke="#000" stroke-width="2.5" fill="none"/>
<path d="M139.5 187.3V348.4" stroke="#ffa200" stroke-width="2.4" stroke-dasharray="12.8 7" fill="none"/><path d="M133.2 336.8L139.5 349.4L145.8 336.8" stroke="#ffa200" stroke-width="2.4" fill="none"/>
<path d="M484.7 231.7V348.4" stroke="#ffa200" stroke-width="2.4" stroke-dasharray="12.8 7" fill="none"/><path d="M478.4 336.8L484.7 349.4L491 336.8" stroke="#ffa200" stroke-width="2.4" fill="none"/>
<g stroke="#000" stroke-width="1.6" fill="none">
<path d="M84.8 0.8H662.3V358.2H84.8Z"/>
<path d="M373.3 0.8V358.2"/>
<path d="M84.8 358.44h8M365.3 358.44h16M662.3 358.44h-8M84.8 342.2h16M357.3 342.2h32M662.3 342.2h-16M84.8 325.96h8M365.3 325.96h16M662.3 325.96h-8M84.8 309.73h8M365.3 309.73h16M662.3 309.73h-8M84.8 293.5h8M365.3 293.5h16M662.3 293.5h-8M84.8 277.26h8M365.3 277.26h16M662.3 277.26h-8M84.8 261.02h8M365.3 261.02h16M662.3 261.02h-8M84.8 244.79h8M365.3 244.79h16M662.3 244.79h-8M84.8 228.56h8M365.3 228.56h16M662.3 228.56h-8M84.8 212.32h8M365.3 212.32h16M662.3 212.32h-8M84.8 196.08h8M365.3 196.08h16M662.3 196.08h-8M84.8 179.85h16M357.3 179.85h32M662.3 179.85h-16M84.8 163.62h8M365.3 163.62h16M662.3 163.62h-8M84.8 147.38h8M365.3 147.38h16M662.3 147.38h-8M84.8 131.14h8M365.3 131.14h16M662.3 131.14h-8M84.8 114.91h8M365.3 114.91h16M662.3 114.91h-8M84.8 98.68h8M365.3 98.68h16M662.3 98.68h-8M84.8 82.44h8M365.3 82.44h16M662.3 82.44h-8M84.8 66.2h8M365.3 66.2h16M662.3 66.2h-8M84.8 49.97h8M365.3 49.97h16M662.3 49.97h-8M84.8 33.74h8M365.3 33.74h16M662.3 33.74h-8M84.8 17.5h16M357.3 17.5h32M662.3 17.5h-16M84.8 1.26h8M365.3 1.26h16M662.3 1.26h-8M122.55 358.2v-8M122.55 0.8v8M144.63 358.2v-8M144.63 0.8v8M160.3 358.2v-8M160.3 0.8v8M172.45 358.2v-8M172.45 0.8v8M182.38 358.2v-8M182.38 0.8v8M190.78 358.2v-8M190.78 0.8v8M198.05 358.2v-8M198.05 0.8v8M204.46 358.2v-8M204.46 0.8v8M210.2 358.2v-16M210.2 0.8v16M247.95 358.2v-8M247.95 0.8v8M270.03 358.2v-8M270.03 0.8v8M285.7 358.2v-8M285.7 0.8v8M297.85 358.2v-8M297.85 0.8v8M307.78 358.2v-8M307.78 0.8v8M316.18 358.2v-8M316.18 0.8v8M323.45 358.2v-8M323.45 0.8v8M329.86 358.2v-8M329.86 0.8v8M335.6 358.2v-16M335.6 0.8v16M411.28 358.2v-8M411.28 0.8v8M433.38 358.2v-8M433.38 0.8v8M449.06 358.2v-8M449.06 0.8v8M461.22 358.2v-8M461.22 0.8v8M471.16 358.2v-8M471.16 0.8v8M479.56 358.2v-8M479.56 0.8v8M486.84 358.2v-8M486.84 0.8v8M493.26 358.2v-8M493.26 0.8v8M499 358.2v-16M499 0.8v16M536.78 358.2v-8M536.78 0.8v8M558.88 358.2v-8M558.88 0.8v8M574.56 358.2v-8M574.56 0.8v8M586.72 358.2v-8M586.72 0.8v8M596.66 358.2v-8M596.66 0.8v8M605.06 358.2v-8M605.06 0.8v8M612.34 358.2v-8M612.34 0.8v8M618.76 358.2v-8M618.76 0.8v8M624.5 358.2v-16M624.5 0.8v16"/>
</g>
<g font-size="20.5" fill="#000">
<text x="75.8" y="24.9" text-anchor="end">0.02</text>
<text x="75.8" y="187.25" text-anchor="end">0.01</text>
<text x="75.8" y="349.6" text-anchor="end">0.00</text>
<text x="84" y="382.3" text-anchor="middle">0.1</text>
<text x="210" y="382.3" text-anchor="middle">1</text>
<text x="336.6" y="382.3" text-anchor="middle">10</text>
<text x="497.6" y="382.3" text-anchor="middle">1</text>
<text x="624.6" y="382.3" text-anchor="middle">10</text>
</g>
<text x="229" y="406" text-anchor="middle" style="font-family:'Liberation Serif',serif" font-size="23">&#969;</text>
<text x="517.8" y="406" text-anchor="middle" style="font-family:'Liberation Serif',serif" font-size="23">&#969;</text>
<text x="109" y="42.2" font-size="29" font-weight="bold">a</text>
<text x="398" y="42" font-size="29" font-weight="bold">b</text>
<g transform="translate(20.6,222) rotate(-90)"><text x="0" y="0" font-size="20.5"><tspan font-style="italic">D</tspan><tspan font-size="14" dy="4">ex</tspan><tspan dy="-4">(</tspan><tspan style="font-family:'Liberation Serif',serif">&#969;</tspan>)/<tspan style="font-family:'Liberation Serif',serif">&#969;</tspan><tspan font-size="14" dy="-8">2</tspan></text></g>
<path d="M177.53 683.5L193.47 692.7L177.53 701.9Z" stroke="#ff0000" stroke-width="2" fill="none"/><path d="M204.53 656.8L220.47 666L204.53 675.2Z" stroke="#ff0000" stroke-width="2" fill="none"/><path d="M223.03 661.8L238.97 671L223.03 680.2Z" stroke="#ff0000" stroke-width="2" fill="none"/><path d="M218.53 685.8L234.47 695L218.53 704.2Z" stroke="#ff0000" stroke-width="2" fill="none"/><path d="M182.03 688.3L197.97 697.5L182.03 706.7Z" stroke="#ff0000" stroke-width="2" fill="none"/><path d="M228.53 678.8L244.47 688L228.53 697.2Z" stroke="#ff0000" stroke-width="2" fill="none"/><path d="M208.03 662.2L223.97 671.4L208.03 680.6Z" stroke="#ff0000" stroke-width="2" fill="none"/><path d="M204.03 700.3L219.97 709.5L204.03 718.7Z" stroke="#ff0000" stroke-width="2" fill="none"/><path d="M244.23 640.3L260.17 649.5L244.23 658.7Z" stroke="#ff0000" stroke-width="2" fill="none"/><path d="M244.93 648.3L260.87 657.5L244.93 666.7Z" stroke="#ff0000" stroke-width="2" fill="none"/><path d="M268.33 640.3L284.27 649.5L268.33 658.7Z" stroke="#ff0000" stroke-width="2" fill="none"/><path d="M244.23 667.3L260.17 676.5L244.23 685.7Z" stroke="#ff0000" stroke-width="2" fill="none"/><path d="M275.13 557.8L291.07 567L275.13 576.2Z" stroke="#ff0000" stroke-width="2" fill="none"/><path d="M284.53 562.8L300.47 572L284.53 581.2Z" stroke="#ff0000" stroke-width="2" fill="none"/><path d="M280.53 606.3L296.47 615.5L280.53 624.7Z" stroke="#ff0000" stroke-width="2" fill="none"/><path d="M264.53 630.8L280.47 640L264.53 649.2Z" stroke="#ff0000" stroke-width="2" fill="none"/><path d="M303.53 518.8L319.47 528L303.53 537.2Z" stroke="#ff0000" stroke-width="2" fill="none"/><path d="M302.53 536.8L318.47 546L302.53 555.2Z" stroke="#ff0000" stroke-width="2" fill="none"/><path d="M335.54 505.17L351.47 514.37L335.54 523.57Z" stroke="#ff0000" stroke-width="2" fill="none"/><path d="M359.83 488.61L375.76 497.81L359.83 507.01Z" stroke="#ff0000" stroke-width="2" fill="none"/><path d="M380.17 492.56L396.1 501.76L380.17 510.96Z" stroke="#ff0000" stroke-width="2" fill="none"/><path d="M397.67 504.54L413.6 513.74L397.67 522.94Z" stroke="#ff0000" stroke-width="2" fill="none"/><path d="M413.02 519.39L428.96 528.59L413.02 537.79Z" stroke="#ff0000" stroke-width="2" fill="none"/><path d="M426.7 534.73L442.64 543.93L426.7 553.13Z" stroke="#ff0000" stroke-width="2" fill="none"/><path d="M439.04 549.48L454.97 558.68L439.04 567.88Z" stroke="#ff0000" stroke-width="2" fill="none"/><path d="M450.27 563.45L466.2 572.65L450.27 581.85Z" stroke="#ff0000" stroke-width="2" fill="none"/><path d="M460.57 576.58L476.51 585.78L460.57 594.98Z" stroke="#ff0000" stroke-width="2" fill="none"/><path d="M470.09 588.89L486.03 598.09L470.09 607.29Z" stroke="#ff0000" stroke-width="2" fill="none"/><path d="M478.95 600.4L494.88 609.6L478.95 618.8Z" stroke="#ff0000" stroke-width="2" fill="none"/><path d="M487.21 611.15L503.15 620.35L487.21 629.55Z" stroke="#ff0000" stroke-width="2" fill="none"/><path d="M494.97 621.19L510.9 630.39L494.97 639.59Z" stroke="#ff0000" stroke-width="2" fill="none"/><path d="M502.27 630.54L518.21 639.74L502.27 648.94Z" stroke="#ff0000" stroke-width="2" fill="none"/><path d="M509.18 639.27L525.11 648.47L509.18 657.67Z" stroke="#ff0000" stroke-width="2" fill="none"/><path d="M515.72 647.44L531.65 656.64L515.72 665.84Z" stroke="#ff0000" stroke-width="2" fill="none"/><path d="M521.94 655.09L537.87 664.29L521.94 673.49Z" stroke="#ff0000" stroke-width="2" fill="none"/><path d="M527.86 662.27L543.8 671.47L527.86 680.67Z" stroke="#ff0000" stroke-width="2" fill="none"/><path d="M533.52 669.02L549.45 678.22L533.52 687.42Z" stroke="#ff0000" stroke-width="2" fill="none"/><path d="M538.93 675.38L554.87 684.58L538.93 693.78Z" stroke="#ff0000" stroke-width="2" fill="none"/><path d="M544.12 681.37L560.06 690.57L544.12 699.77Z" stroke="#ff0000" stroke-width="2" fill="none"/><path d="M549.11 687.03L565.04 696.23L549.11 705.43Z" stroke="#ff0000" stroke-width="2" fill="none"/><path d="M553.9 692.38L569.83 701.58L553.9 710.78Z" stroke="#ff0000" stroke-width="2" fill="none"/><path d="M558.52 697.44L574.45 706.64L558.52 715.84Z" stroke="#ff0000" stroke-width="2" fill="none"/><path d="M562.97 702.24L578.9 711.44L562.97 720.64Z" stroke="#ff0000" stroke-width="2" fill="none"/><path d="M567.27 706.78L583.2 715.98L567.27 725.18Z" stroke="#ff0000" stroke-width="2" fill="none"/><path d="M571.43 711.09L587.36 720.29L571.43 729.49Z" stroke="#ff0000" stroke-width="2" fill="none"/><path d="M575.45 715.19L591.38 724.39L575.45 733.59Z" stroke="#ff0000" stroke-width="2" fill="none"/><path d="M579.35 719.08L595.28 728.28L579.35 737.48Z" stroke="#ff0000" stroke-width="2" fill="none"/><path d="M583.13 722.78L599.06 731.98L583.13 741.18Z" stroke="#ff0000" stroke-width="2" fill="none"/><path d="M586.8 726.29L602.74 735.49L586.8 744.69Z" stroke="#ff0000" stroke-width="2" fill="none"/><path d="M590.37 729.64L606.3 738.84L590.37 748.04Z" stroke="#ff0000" stroke-width="2" fill="none"/><path d="M593.84 732.83L609.77 742.03L593.84 751.23Z" stroke="#ff0000" stroke-width="2" fill="none"/><path d="M597.21 735.87L613.14 745.07L597.21 754.27Z" stroke="#ff0000" stroke-width="2" fill="none"/><path d="M600.5 738.76L616.43 747.96L600.5 757.16Z" stroke="#ff0000" stroke-width="2" fill="none"/><path d="M603.7 741.52L619.63 750.72L603.7 759.92Z" stroke="#ff0000" stroke-width="2" fill="none"/><path d="M606.82 744.15L622.76 753.35L606.82 762.55Z" stroke="#ff0000" stroke-width="2" fill="none"/><path d="M609.87 746.66L625.8 755.86L609.87 765.06Z" stroke="#ff0000" stroke-width="2" fill="none"/><path d="M612.84 749.06L628.78 758.26L612.84 767.46Z" stroke="#ff0000" stroke-width="2" fill="none"/><path d="M615.75 751.34L631.68 760.54L615.75 769.74Z" stroke="#ff0000" stroke-width="2" fill="none"/><path d="M618.59 753.52L634.52 762.72L618.59 771.92Z" stroke="#ff0000" stroke-width="2" fill="none"/><path d="M621.37 755.6L637.3 764.8L621.37 774Z" stroke="#ff0000" stroke-width="2" fill="none"/><path d="M624.08 757.58L640.02 766.78L624.08 775.98Z" stroke="#ff0000" stroke-width="2" fill="none"/><path d="M626.74 759.48L642.68 768.68L626.74 777.88Z" stroke="#ff0000" stroke-width="2" fill="none"/><path d="M629.35 761.29L645.28 770.49L629.35 779.69Z" stroke="#ff0000" stroke-width="2" fill="none"/><path d="M631.9 763.01L647.83 772.21L631.9 781.41Z" stroke="#ff0000" stroke-width="2" fill="none"/><path d="M634.4 764.66L650.33 773.86L634.4 783.06Z" stroke="#ff0000" stroke-width="2" fill="none"/><path d="M636.85 766.23L652.78 775.43L636.85 784.63Z" stroke="#ff0000" stroke-width="2" fill="none"/><path d="M639.25 767.73L655.19 776.93L639.25 786.13Z" stroke="#ff0000" stroke-width="2" fill="none"/><path d="M641.61 769.16L657.55 778.36L641.61 787.56Z" stroke="#ff0000" stroke-width="2" fill="none"/><path d="M643.93 770.52L659.86 779.72L643.93 788.92Z" stroke="#ff0000" stroke-width="2" fill="none"/><path d="M646.2 771.82L662.14 781.02L646.2 790.22Z" stroke="#ff0000" stroke-width="2" fill="none"/><path d="M648.44 773.06L664.37 782.26L648.44 791.46Z" stroke="#ff0000" stroke-width="2" fill="none"/><path d="M650.63 774.23L666.56 783.43L650.63 792.63Z" stroke="#ff0000" stroke-width="2" fill="none"/><path d="M652.79 775.36L668.72 784.56L652.79 793.76Z" stroke="#ff0000" stroke-width="2" fill="none"/><path d="M654.91 776.42L670.84 785.62L654.91 794.82Z" stroke="#ff0000" stroke-width="2" fill="none"/><path d="M656.99 777.44L672.93 786.64L656.99 795.84Z" stroke="#ff0000" stroke-width="2" fill="none"/><path d="M659.04 778.4L674.98 787.6L659.04 796.8Z" stroke="#ff0000" stroke-width="2" fill="none"/><path d="M661.06 779.32L677 788.52L661.06 797.72Z" stroke="#ff0000" stroke-width="2" fill="none"/><path d="M663.05 780.19L678.98 789.39L663.05 798.59Z" stroke="#ff0000" stroke-width="2" fill="none"/><path d="M665 781.01L680.94 790.21L665 799.41Z" stroke="#ff0000" stroke-width="2" fill="none"/><path d="M666.93 781.79L682.86 790.99L666.93 800.19Z" stroke="#ff0000" stroke-width="2" fill="none"/><path d="M668.82 782.53L684.76 791.73L668.82 800.93Z" stroke="#ff0000" stroke-width="2" fill="none"/><path d="M670.69 783.22L686.62 792.42L670.69 801.62Z" stroke="#ff0000" stroke-width="2" fill="none"/><path d="M672.53 783.88L688.46 793.08L672.53 802.28Z" stroke="#ff0000" stroke-width="2" fill="none"/><path d="M674.34 784.5L690.28 793.7L674.34 802.9Z" stroke="#ff0000" stroke-width="2" fill="none"/><path d="M676.13 785.08L692.07 794.28L676.13 803.48Z" stroke="#ff0000" stroke-width="2" fill="none"/><path d="M186.3 698.97L195 714.03L177.6 714.03Z" stroke="#ff00ff" stroke-width="2" fill="none"/><path d="M213 700.97L221.7 716.03L204.3 716.03Z" stroke="#ff00ff" stroke-width="2" fill="none"/><path d="M230.9 664.97L239.6 680.03L222.2 680.03Z" stroke="#ff00ff" stroke-width="2" fill="none"/><path d="M238.2 700.97L246.9 716.03L229.5 716.03Z" stroke="#ff00ff" stroke-width="2" fill="none"/><path d="M251.2 616.07L259.9 631.13L242.5 631.13Z" stroke="#ff00ff" stroke-width="2" fill="none"/><path d="M262.8 604.07L271.5 619.13L254.1 619.13Z" stroke="#ff00ff" stroke-width="2" fill="none"/><path d="M271.6 553.97L280.3 569.03L262.9 569.03Z" stroke="#ff00ff" stroke-width="2" fill="none"/><path d="M280 583.27L288.7 598.33L271.3 598.33Z" stroke="#ff00ff" stroke-width="2" fill="none"/><path d="M287.2 542.47L295.9 557.53L278.5 557.53Z" stroke="#ff00ff" stroke-width="2" fill="none"/><path d="M302 521.97L310.7 537.03L293.3 537.03Z" stroke="#ff00ff" stroke-width="2" fill="none"/><path d="M307.3 528.97L316 544.03L298.6 544.03Z" stroke="#ff00ff" stroke-width="2" fill="none"/><path d="M308.5 502.07L317.2 517.13L299.8 517.13Z" stroke="#ff00ff" stroke-width="2" fill="none"/><path d="M311 502.07L319.7 517.13L302.3 517.13Z" stroke="#ff00ff" stroke-width="2" fill="none"/><path d="M334.95 478.36L343.65 493.43L326.25 493.43Z" stroke="#ff00ff" stroke-width="2" fill="none"/><path d="M352.5 468.46L361.2 483.53L343.8 483.53Z" stroke="#ff00ff" stroke-width="2" fill="none"/><path d="M367.9 469.34L376.6 484.41L359.2 484.41Z" stroke="#ff00ff" stroke-width="2" fill="none"/><path d="M381.61 476.25L390.31 491.32L372.91 491.32Z" stroke="#ff00ff" stroke-width="2" fill="none"/><path d="M393.97 486.41L402.67 501.48L385.27 501.48Z" stroke="#ff00ff" stroke-width="2" fill="none"/><path d="M405.23 498.15L413.93 513.22L396.53 513.22Z" stroke="#ff00ff" stroke-width="2" fill="none"/><path d="M415.55 510.46L424.25 525.53L406.85 525.53Z" stroke="#ff00ff" stroke-width="2" fill="none"/><path d="M425.09 522.72L433.79 537.79L416.39 537.79Z" stroke="#ff00ff" stroke-width="2" fill="none"/><path d="M433.96 534.72L442.66 549.79L425.26 549.79Z" stroke="#ff00ff" stroke-width="2" fill="none"/><path d="M442.24 546.36L450.94 561.43L433.54 561.43Z" stroke="#ff00ff" stroke-width="2" fill="none"/><path d="M450 557.58L458.7 572.65L441.3 572.65Z" stroke="#ff00ff" stroke-width="2" fill="none"/><path d="M457.32 568.34L466.02 583.41L448.62 583.41Z" stroke="#ff00ff" stroke-width="2" fill="none"/><path d="M464.23 578.63L472.93 593.7L455.53 593.7Z" stroke="#ff00ff" stroke-width="2" fill="none"/><path d="M470.78 588.44L479.48 603.51L462.08 603.51Z" stroke="#ff00ff" stroke-width="2" fill="none"/><path d="M477.01 597.78L485.71 612.85L468.31 612.85Z" stroke="#ff00ff" stroke-width="2" fill="none"/><path d="M482.94 606.66L491.64 621.73L474.24 621.73Z" stroke="#ff00ff" stroke-width="2" fill="none"/><path d="M488.6 615.08L497.3 630.15L479.9 630.15Z" stroke="#ff00ff" stroke-width="2" fill="none"/><path d="M494.02 623.08L502.72 638.14L485.32 638.14Z" stroke="#ff00ff" stroke-width="2" fill="none"/><path d="M499.21 630.66L507.91 645.73L490.51 645.73Z" stroke="#ff00ff" stroke-width="2" fill="none"/><path d="M504.2 637.86L512.9 652.93L495.5 652.93Z" stroke="#ff00ff" stroke-width="2" fill="none"/><path d="M509 644.71L517.7 659.78L500.3 659.78Z" stroke="#ff00ff" stroke-width="2" fill="none"/><path d="M513.62 651.23L522.32 666.3L504.92 666.3Z" stroke="#ff00ff" stroke-width="2" fill="none"/><path d="M518.08 657.44L526.78 672.51L509.38 672.51Z" stroke="#ff00ff" stroke-width="2" fill="none"/><path d="M522.38 663.35L531.08 678.42L513.68 678.42Z" stroke="#ff00ff" stroke-width="2" fill="none"/><path d="M526.54 668.99L535.24 684.06L517.84 684.06Z" stroke="#ff00ff" stroke-width="2" fill="none"/><path d="M530.57 674.37L539.27 689.43L521.87 689.43Z" stroke="#ff00ff" stroke-width="2" fill="none"/><path d="M534.47 679.5L543.17 694.57L525.77 694.57Z" stroke="#ff00ff" stroke-width="2" fill="none"/><path d="M538.25 684.4L546.95 699.47L529.55 699.47Z" stroke="#ff00ff" stroke-width="2" fill="none"/><path d="M541.93 689.09L550.63 704.16L533.23 704.16Z" stroke="#ff00ff" stroke-width="2" fill="none"/><path d="M545.49 693.57L554.19 708.64L536.79 708.64Z" stroke="#ff00ff" stroke-width="2" fill="none"/><path d="M548.96 697.85L557.66 712.92L540.26 712.92Z" stroke="#ff00ff" stroke-width="2" fill="none"/><path d="M552.34 701.95L561.04 717.01L543.64 717.01Z" stroke="#ff00ff" stroke-width="2" fill="none"/><path d="M555.63 705.87L564.33 720.94L546.93 720.94Z" stroke="#ff00ff" stroke-width="2" fill="none"/><path d="M558.83 709.62L567.53 724.69L550.13 724.69Z" stroke="#ff00ff" stroke-width="2" fill="none"/><path d="M561.96 713.21L570.66 728.28L553.26 728.28Z" stroke="#ff00ff" stroke-width="2" fill="none"/><path d="M565.01 716.65L573.71 731.72L556.31 731.72Z" stroke="#ff00ff" stroke-width="2" fill="none"/><path d="M567.98 719.95L576.68 735.02L559.28 735.02Z" stroke="#ff00ff" stroke-width="2" fill="none"/><path d="M570.89 723.11L579.59 738.17L562.19 738.17Z" stroke="#ff00ff" stroke-width="2" fill="none"/><path d="M573.73 726.13L582.43 741.2L565.03 741.2Z" stroke="#ff00ff" stroke-width="2" fill="none"/><path d="M576.51 729.03L585.21 744.1L567.81 744.1Z" stroke="#ff00ff" stroke-width="2" fill="none"/><path d="M579.23 731.81L587.93 746.88L570.53 746.88Z" stroke="#ff00ff" stroke-width="2" fill="none"/><path d="M581.89 734.47L590.59 749.54L573.19 749.54Z" stroke="#ff00ff" stroke-width="2" fill="none"/><path d="M584.5 737.02L593.2 752.09L575.8 752.09Z" stroke="#ff00ff" stroke-width="2" fill="none"/><path d="M587.05 739.47L595.75 754.54L578.35 754.54Z" stroke="#ff00ff" stroke-width="2" fill="none"/><path d="M589.55 741.81L598.25 756.88L580.85 756.88Z" stroke="#ff00ff" stroke-width="2" fill="none"/><path d="M592 744.06L600.7 759.13L583.3 759.13Z" stroke="#ff00ff" stroke-width="2" fill="none"/><path d="M594.41 746.21L603.11 761.28L585.71 761.28Z" stroke="#ff00ff" stroke-width="2" fill="none"/><path d="M596.77 748.27L605.47 763.34L588.07 763.34Z" stroke="#ff00ff" stroke-width="2" fill="none"/><path d="M599.08 750.25L607.78 765.31L590.38 765.31Z" stroke="#ff00ff" stroke-width="2" fill="none"/><path d="M601.36 752.14L610.06 767.21L592.66 767.21Z" stroke="#ff00ff" stroke-width="2" fill="none"/><path d="M603.59 753.95L612.29 769.02L594.89 769.02Z" stroke="#ff00ff" stroke-width="2" fill="none"/><path d="M605.79 755.69L614.49 770.76L597.09 770.76Z" stroke="#ff00ff" stroke-width="2" fill="none"/><path d="M607.95 757.35L616.65 772.42L599.25 772.42Z" stroke="#ff00ff" stroke-width="2" fill="none"/><path d="M610.07 758.95L618.77 774.02L601.37 774.02Z" stroke="#ff00ff" stroke-width="2" fill="none"/><path d="M612.15 760.48L620.85 775.55L603.45 775.55Z" stroke="#ff00ff" stroke-width="2" fill="none"/><path d="M614.2 761.96L622.9 777.03L605.5 777.03Z" stroke="#ff00ff" stroke-width="2" fill="none"/><path d="M616.22 763.37L624.92 778.44L607.52 778.44Z" stroke="#ff00ff" stroke-width="2" fill="none"/><path d="M618.21 764.73L626.91 779.8L609.51 779.8Z" stroke="#ff00ff" stroke-width="2" fill="none"/><path d="M620.16 766.04L628.86 781.11L611.46 781.11Z" stroke="#ff00ff" stroke-width="2" fill="none"/><path d="M622.09 767.29L630.79 782.36L613.39 782.36Z" stroke="#ff00ff" stroke-width="2" fill="none"/><path d="M623.99 768.5L632.69 783.57L615.29 783.57Z" stroke="#ff00ff" stroke-width="2" fill="none"/><path d="M625.86 769.66L634.56 784.73L617.16 784.73Z" stroke="#ff00ff" stroke-width="2" fill="none"/><path d="M627.7 770.78L636.4 785.85L619 785.85Z" stroke="#ff00ff" stroke-width="2" fill="none"/><path d="M629.51 771.86L638.21 786.93L620.81 786.93Z" stroke="#ff00ff" stroke-width="2" fill="none"/><path d="M631.3 772.9L640 787.97L622.6 787.97Z" stroke="#ff00ff" stroke-width="2" fill="none"/><path d="M633.06 773.9L641.76 788.97L624.36 788.97Z" stroke="#ff00ff" stroke-width="2" fill="none"/><path d="M634.8 774.86L643.5 789.93L626.1 789.93Z" stroke="#ff00ff" stroke-width="2" fill="none"/><path d="M636.52 775.79L645.22 790.86L627.82 790.86Z" stroke="#ff00ff" stroke-width="2" fill="none"/><path d="M638.21 776.68L646.91 791.75L629.51 791.75Z" stroke="#ff00ff" stroke-width="2" fill="none"/><path d="M639.88 777.55L648.58 792.61L631.18 792.61Z" stroke="#ff00ff" stroke-width="2" fill="none"/><path d="M641.52 778.38L650.22 793.45L632.82 793.45Z" stroke="#ff00ff" stroke-width="2" fill="none"/><path d="M643.15 779.18L651.85 794.25L634.45 794.25Z" stroke="#ff00ff" stroke-width="2" fill="none"/><path d="M644.76 779.96L653.46 795.03L636.06 795.03Z" stroke="#ff00ff" stroke-width="2" fill="none"/><path d="M646.34 780.7L655.04 795.77L637.64 795.77Z" stroke="#ff00ff" stroke-width="2" fill="none"/><path d="M647.91 781.43L656.61 796.5L639.21 796.5Z" stroke="#ff00ff" stroke-width="2" fill="none"/><path d="M649.45 782.12L658.15 797.19L640.75 797.19Z" stroke="#ff00ff" stroke-width="2" fill="none"/><path d="M650.98 782.8L659.68 797.87L642.28 797.87Z" stroke="#ff00ff" stroke-width="2" fill="none"/><path d="M652.49 783.45L661.19 798.52L643.79 798.52Z" stroke="#ff00ff" stroke-width="2" fill="none"/><path d="M653.98 784.08L662.68 799.15L645.28 799.15Z" stroke="#ff00ff" stroke-width="2" fill="none"/><path d="M655.45 784.68L664.15 799.75L646.75 799.75Z" stroke="#ff00ff" stroke-width="2" fill="none"/><path d="M656.91 785.27L665.61 800.34L648.21 800.34Z" stroke="#ff00ff" stroke-width="2" fill="none"/><path d="M658.35 785.84L667.05 800.91L649.65 800.91Z" stroke="#ff00ff" stroke-width="2" fill="none"/><path d="M659.77 786.39L668.47 801.46L651.07 801.46Z" stroke="#ff00ff" stroke-width="2" fill="none"/><path d="M661.18 786.92L669.88 801.99L652.48 801.99Z" stroke="#ff00ff" stroke-width="2" fill="none"/><path d="M662.57 787.43L671.27 802.5L653.87 802.5Z" stroke="#ff00ff" stroke-width="2" fill="none"/><path d="M663.95 787.93L672.65 803L655.25 803Z" stroke="#ff00ff" stroke-width="2" fill="none"/><path d="M665.31 788.41L674.01 803.48L656.61 803.48Z" stroke="#ff00ff" stroke-width="2" fill="none"/><path d="M666.66 788.87L675.36 803.94L657.96 803.94Z" stroke="#ff00ff" stroke-width="2" fill="none"/><path d="M667.99 789.32L676.69 804.39L659.29 804.39Z" stroke="#ff00ff" stroke-width="2" fill="none"/><path d="M669.31 789.76L678.01 804.83L660.61 804.83Z" stroke="#ff00ff" stroke-width="2" fill="none"/><path d="M670.61 790.18L679.31 805.25L661.91 805.25Z" stroke="#ff00ff" stroke-width="2" fill="none"/><path d="M671.9 790.59L680.6 805.65L663.2 805.65Z" stroke="#ff00ff" stroke-width="2" fill="none"/><path d="M673.18 790.98L681.88 806.05L664.48 806.05Z" stroke="#ff00ff" stroke-width="2" fill="none"/><path d="M674.45 791.36L683.15 806.43L665.75 806.43Z" stroke="#ff00ff" stroke-width="2" fill="none"/><path d="M675.7 791.73L684.4 806.8L667 806.8Z" stroke="#ff00ff" stroke-width="2" fill="none"/><path d="M676.94 792.09L685.64 807.16L668.24 807.16Z" stroke="#ff00ff" stroke-width="2" fill="none"/><path d="M678.17 792.44L686.87 807.51L669.47 807.51Z" stroke="#ff00ff" stroke-width="2" fill="none"/><path d="M679.38 792.78L688.08 807.84L670.68 807.84Z" stroke="#ff00ff" stroke-width="2" fill="none"/><path d="M680.59 793.1L689.29 808.17L671.89 808.17Z" stroke="#ff00ff" stroke-width="2" fill="none"/><path d="M171.6 675.9L180.2 684.5L171.6 693.1L163 684.5Z" stroke="#0000ff" stroke-width="2" fill="none"/><path d="M198.8 685.2L207.4 693.8L198.8 702.4L190.2 693.8Z" stroke="#0000ff" stroke-width="2" fill="none"/><path d="M211 697.1L219.6 705.7L211 714.3L202.4 705.7Z" stroke="#0000ff" stroke-width="2" fill="none"/><path d="M217.7 671.9L226.3 680.5L217.7 689.1L209.1 680.5Z" stroke="#0000ff" stroke-width="2" fill="none"/><path d="M237 675.4L245.6 684L237 692.6L228.4 684Z" stroke="#0000ff" stroke-width="2" fill="none"/><path d="M250.5 617.2L259.1 625.8L250.5 634.4L241.9 625.8Z" stroke="#0000ff" stroke-width="2" fill="none"/><path d="M255.5 643.1L264.1 651.7L255.5 660.3L246.9 651.7Z" stroke="#0000ff" stroke-width="2" fill="none"/><path d="M267.1 621.9L275.7 630.5L267.1 639.1L258.5 630.5Z" stroke="#0000ff" stroke-width="2" fill="none"/><path d="M276.5 630.2L285.1 638.8L276.5 647.4L267.9 638.8Z" stroke="#0000ff" stroke-width="2" fill="none"/><path d="M283.4 543.2L292 551.8L283.4 560.4L274.8 551.8Z" stroke="#0000ff" stroke-width="2" fill="none"/><path d="M290 573.4L298.6 582L290 590.6L281.4 582Z" stroke="#0000ff" stroke-width="2" fill="none"/><path d="M293.3 528.6L301.9 537.2L293.3 545.8L284.7 537.2Z" stroke="#0000ff" stroke-width="2" fill="none"/><path d="M295.6 548.4L304.2 557L295.6 565.6L287 557Z" stroke="#0000ff" stroke-width="2" fill="none"/><path d="M325.83 488.59L334.43 497.19L325.83 505.79L317.23 497.19Z" stroke="#0000ff" stroke-width="2" fill="none"/><path d="M351.13 472.44L359.73 481.04L351.13 489.64L342.53 481.04Z" stroke="#0000ff" stroke-width="2" fill="none"/><path d="M372.17 475.49L380.77 484.09L372.17 492.69L363.57 484.09Z" stroke="#0000ff" stroke-width="2" fill="none"/><path d="M390.19 487.71L398.79 496.31L390.19 504.91L381.59 496.31Z" stroke="#0000ff" stroke-width="2" fill="none"/><path d="M405.94 504.2L414.54 512.8L405.94 521.4L397.34 512.8Z" stroke="#0000ff" stroke-width="2" fill="none"/><path d="M419.93 522.38L428.53 530.98L419.93 539.58L411.33 530.98Z" stroke="#0000ff" stroke-width="2" fill="none"/><path d="M432.52 540.86L441.12 549.46L432.52 558.06L423.92 549.46Z" stroke="#0000ff" stroke-width="2" fill="none"/><path d="M443.96 558.89L452.56 567.49L443.96 576.09L435.36 567.49Z" stroke="#0000ff" stroke-width="2" fill="none"/><path d="M454.44 576.03L463.04 584.63L454.44 593.23L445.84 584.63Z" stroke="#0000ff" stroke-width="2" fill="none"/><path d="M464.12 592.07L472.72 600.67L464.12 609.27L455.52 600.67Z" stroke="#0000ff" stroke-width="2" fill="none"/><path d="M473.1 606.9L481.7 615.5L473.1 624.1L464.5 615.5Z" stroke="#0000ff" stroke-width="2" fill="none"/><path d="M481.48 620.5L490.08 629.1L481.48 637.7L472.88 629.1Z" stroke="#0000ff" stroke-width="2" fill="none"/><path d="M489.34 632.86L497.94 641.46L489.34 650.06L480.74 641.46Z" stroke="#0000ff" stroke-width="2" fill="none"/><path d="M496.73 644.03L505.33 652.63L496.73 661.23L488.13 652.63Z" stroke="#0000ff" stroke-width="2" fill="none"/><path d="M503.71 654.05L512.31 662.65L503.71 671.25L495.11 662.65Z" stroke="#0000ff" stroke-width="2" fill="none"/><path d="M510.33 663.07L518.93 671.67L510.33 680.27L501.73 671.67Z" stroke="#0000ff" stroke-width="2" fill="none"/><path d="M516.61 671.32L525.21 679.92L516.61 688.52L508.01 679.92Z" stroke="#0000ff" stroke-width="2" fill="none"/><path d="M522.59 679L531.19 687.6L522.59 696.2L513.99 687.6Z" stroke="#0000ff" stroke-width="2" fill="none"/><path d="M528.3 686.24L536.9 694.84L528.3 703.44L519.7 694.84Z" stroke="#0000ff" stroke-width="2" fill="none"/><path d="M533.76 693.16L542.36 701.76L533.76 710.36L525.16 701.76Z" stroke="#0000ff" stroke-width="2" fill="none"/><path d="M539 699.77L547.6 708.37L539 716.97L530.4 708.37Z" stroke="#0000ff" stroke-width="2" fill="none"/><path d="M544.02 706.06L552.62 714.66L544.02 723.26L535.42 714.66Z" stroke="#0000ff" stroke-width="2" fill="none"/><path d="M548.85 712.03L557.45 720.63L548.85 729.23L540.25 720.63Z" stroke="#0000ff" stroke-width="2" fill="none"/><path d="M553.5 717.69L562.1 726.29L553.5 734.89L544.9 726.29Z" stroke="#0000ff" stroke-width="2" fill="none"/><path d="M557.99 723.03L566.59 731.63L557.99 740.23L549.39 731.63Z" stroke="#0000ff" stroke-width="2" fill="none"/><path d="M562.32 728.07L570.92 736.67L562.32 745.27L553.72 736.67Z" stroke="#0000ff" stroke-width="2" fill="none"/><path d="M566.5 732.81L575.1 741.41L566.5 750.01L557.9 741.41Z" stroke="#0000ff" stroke-width="2" fill="none"/><path d="M570.56 737.26L579.16 745.86L570.56 754.46L561.96 745.86Z" stroke="#0000ff" stroke-width="2" fill="none"/><path d="M574.48 741.42L583.08 750.02L574.48 758.62L565.88 750.02Z" stroke="#0000ff" stroke-width="2" fill="none"/><path d="M578.28 745.31L586.88 753.91L578.28 762.51L569.68 753.91Z" stroke="#0000ff" stroke-width="2" fill="none"/><path d="M581.98 748.94L590.58 757.54L581.98 766.14L573.38 757.54Z" stroke="#0000ff" stroke-width="2" fill="none"/><path d="M585.57 752.32L594.17 760.92L585.57 769.52L576.97 760.92Z" stroke="#0000ff" stroke-width="2" fill="none"/><path d="M589.05 755.48L597.65 764.08L589.05 772.68L580.45 764.08Z" stroke="#0000ff" stroke-width="2" fill="none"/><path d="M592.45 758.43L601.05 767.03L592.45 775.63L583.85 767.03Z" stroke="#0000ff" stroke-width="2" fill="none"/><path d="M595.75 761.19L604.35 769.79L595.75 778.39L587.15 769.79Z" stroke="#0000ff" stroke-width="2" fill="none"/><path d="M598.97 763.77L607.57 772.37L598.97 780.97L590.37 772.37Z" stroke="#0000ff" stroke-width="2" fill="none"/><path d="M602.11 766.19L610.71 774.79L602.11 783.39L593.51 774.79Z" stroke="#0000ff" stroke-width="2" fill="none"/><path d="M605.17 768.45L613.77 777.05L605.17 785.65L596.57 777.05Z" stroke="#0000ff" stroke-width="2" fill="none"/><path d="M608.16 770.57L616.76 779.17L608.16 787.77L599.56 779.17Z" stroke="#0000ff" stroke-width="2" fill="none"/><path d="M611.08 772.55L619.68 781.15L611.08 789.75L602.48 781.15Z" stroke="#0000ff" stroke-width="2" fill="none"/><path d="M613.93 774.41L622.53 783.01L613.93 791.61L605.33 783.01Z" stroke="#0000ff" stroke-width="2" fill="none"/><path d="M616.72 776.15L625.32 784.75L616.72 793.35L608.12 784.75Z" stroke="#0000ff" stroke-width="2" fill="none"/><path d="M619.45 777.78L628.05 786.38L619.45 794.98L610.85 786.38Z" stroke="#0000ff" stroke-width="2" fill="none"/><path d="M622.12 779.3L630.72 787.9L622.12 796.5L613.52 787.9Z" stroke="#0000ff" stroke-width="2" fill="none"/><path d="M624.74 780.73L633.34 789.33L624.74 797.93L616.14 789.33Z" stroke="#0000ff" stroke-width="2" fill="none"/><path d="M627.3 782.07L635.9 790.67L627.3 799.27L618.7 790.67Z" stroke="#0000ff" stroke-width="2" fill="none"/><path d="M629.81 783.33L638.41 791.93L629.81 800.53L621.21 791.93Z" stroke="#0000ff" stroke-width="2" fill="none"/><path d="M632.27 784.5L640.87 793.1L632.27 801.7L623.67 793.1Z" stroke="#0000ff" stroke-width="2" fill="none"/><path d="M634.69 785.6L643.29 794.2L634.69 802.8L626.09 794.2Z" stroke="#0000ff" stroke-width="2" fill="none"/><path d="M637.05 786.62L645.65 795.22L637.05 803.82L628.45 795.22Z" stroke="#0000ff" stroke-width="2" fill="none"/><path d="M639.38 787.58L647.98 796.18L639.38 804.78L630.78 796.18Z" stroke="#0000ff" stroke-width="2" fill="none"/><path d="M641.66 788.48L650.26 797.08L641.66 805.68L633.06 797.08Z" stroke="#0000ff" stroke-width="2" fill="none"/><path d="M643.9 789.31L652.5 797.91L643.9 806.51L635.3 797.91Z" stroke="#0000ff" stroke-width="2" fill="none"/><path d="M646.1 790.09L654.7 798.69L646.1 807.29L637.5 798.69Z" stroke="#0000ff" stroke-width="2" fill="none"/><path d="M648.27 790.83L656.87 799.43L648.27 808.03L639.67 799.43Z" stroke="#0000ff" stroke-width="2" fill="none"/><path d="M650.4 791.51L659 800.11L650.4 808.71L641.8 800.11Z" stroke="#0000ff" stroke-width="2" fill="none"/><path d="M652.49 792.15L661.09 800.75L652.49 809.35L643.89 800.75Z" stroke="#0000ff" stroke-width="2" fill="none"/><path d="M654.55 792.76L663.15 801.36L654.55 809.96L645.95 801.36Z" stroke="#0000ff" stroke-width="2" fill="none"/><path d="M656.57 793.33L665.17 801.93L656.57 810.53L647.97 801.93Z" stroke="#0000ff" stroke-width="2" fill="none"/><path d="M658.56 793.86L667.16 802.46L658.56 811.06L649.96 802.46Z" stroke="#0000ff" stroke-width="2" fill="none"/><path d="M660.52 794.36L669.12 802.96L660.52 811.56L651.92 802.96Z" stroke="#0000ff" stroke-width="2" fill="none"/><path d="M662.46 794.84L671.06 803.44L662.46 812.04L653.86 803.44Z" stroke="#0000ff" stroke-width="2" fill="none"/><path d="M664.36 795.28L672.96 803.88L664.36 812.48L655.76 803.88Z" stroke="#0000ff" stroke-width="2" fill="none"/><path d="M666.23 795.71L674.83 804.31L666.23 812.91L657.63 804.31Z" stroke="#0000ff" stroke-width="2" fill="none"/><path d="M668.08 796.11L676.68 804.71L668.08 813.31L659.48 804.71Z" stroke="#0000ff" stroke-width="2" fill="none"/><path d="M669.9 796.49L678.5 805.09L669.9 813.69L661.3 805.09Z" stroke="#0000ff" stroke-width="2" fill="none"/><path d="M671.69 796.85L680.29 805.45L671.69 814.05L663.09 805.45Z" stroke="#0000ff" stroke-width="2" fill="none"/><path d="M673.46 797.2L682.06 805.8L673.46 814.4L664.86 805.8Z" stroke="#0000ff" stroke-width="2" fill="none"/><path d="M675.2 797.53L683.8 806.13L675.2 814.73L666.6 806.13Z" stroke="#0000ff" stroke-width="2" fill="none"/><path d="M676.92 797.85L685.52 806.45L676.92 815.05L668.32 806.45Z" stroke="#0000ff" stroke-width="2" fill="none"/><circle cx="133.4" cy="685.3" r="8.7" stroke="#000" stroke-width="2" fill="none"/><circle cx="161.4" cy="685.8" r="8.7" stroke="#000" stroke-width="2" fill="none"/><circle cx="166.6" cy="698.5" r="8.7" stroke="#000" stroke-width="2" fill="none"/><circle cx="188.8" cy="676.6" r="8.7" stroke="#000" stroke-width="2" fill="none"/><circle cx="195.8" cy="697.9" r="8.7" stroke="#000" stroke-width="2" fill="none"/><circle cx="199.8" cy="731.5" r="8.7" stroke="#000" stroke-width="2" fill="none"/><circle cx="221.4" cy="692.6" r="8.7" stroke="#000" stroke-width="2" fill="none"/><circle cx="230.1" cy="677.2" r="8.7" stroke="#000" stroke-width="2" fill="none"/><circle cx="235.3" cy="706.4" r="8.7" stroke="#000" stroke-width="2" fill="none"/><circle cx="233.1" cy="715.2" r="8.7" stroke="#000" stroke-width="2" fill="none"/><circle cx="255" cy="691.8" r="8.7" stroke="#000" stroke-width="2" fill="none"/><circle cx="264.5" cy="686" r="8.7" stroke="#000" stroke-width="2" fill="none"/><circle cx="257.9" cy="710.1" r="8.7" stroke="#000" stroke-width="2" fill="none"/><circle cx="288.4" cy="625" r="8.7" stroke="#000" stroke-width="2" fill="none"/><circle cx="292.8" cy="634.5" r="8.7" stroke="#000" stroke-width="2" fill="none"/><circle cx="306.7" cy="547.5" r="8.7" stroke="#000" stroke-width="2" fill="none"/><circle cx="319.6" cy="523.2" r="8.7" stroke="#000" stroke-width="2" fill="none"/><circle cx="331.2" cy="515.6" r="8.7" stroke="#000" stroke-width="2" fill="none"/><circle cx="341.64" cy="500.1" r="8.7" stroke="#000" stroke-width="2" fill="none"/><circle cx="351.65" cy="495.45" r="8.7" stroke="#000" stroke-width="2" fill="none"/><circle cx="360.92" cy="493.93" r="8.7" stroke="#000" stroke-width="2" fill="none"/><circle cx="369.56" cy="495.59" r="8.7" stroke="#000" stroke-width="2" fill="none"/><circle cx="377.63" cy="500.41" r="8.7" stroke="#000" stroke-width="2" fill="none"/><circle cx="385.22" cy="508.09" r="8.7" stroke="#000" stroke-width="2" fill="none"/><circle cx="392.38" cy="517.56" r="8.7" stroke="#000" stroke-width="2" fill="none"/><circle cx="399.14" cy="527.77" r="8.7" stroke="#000" stroke-width="2" fill="none"/><circle cx="405.57" cy="537.93" r="8.7" stroke="#000" stroke-width="2" fill="none"/><circle cx="411.68" cy="547.7" r="8.7" stroke="#000" stroke-width="2" fill="none"/><circle cx="417.5" cy="557.09" r="8.7" stroke="#000" stroke-width="2" fill="none"/><circle cx="423.07" cy="566.12" r="8.7" stroke="#000" stroke-width="2" fill="none"/><circle cx="428.4" cy="574.8" r="8.7" stroke="#000" stroke-width="2" fill="none"/><circle cx="433.51" cy="583.17" r="8.7" stroke="#000" stroke-width="2" fill="none"/><circle cx="438.43" cy="591.23" r="8.7" stroke="#000" stroke-width="2" fill="none"/><circle cx="443.16" cy="599" r="8.7" stroke="#000" stroke-width="2" fill="none"/><circle cx="447.71" cy="606.51" r="8.7" stroke="#000" stroke-width="2" fill="none"/><circle cx="452.11" cy="613.75" r="8.7" stroke="#000" stroke-width="2" fill="none"/><circle cx="456.36" cy="620.75" r="8.7" stroke="#000" stroke-width="2" fill="none"/><circle cx="460.47" cy="627.52" r="8.7" stroke="#000" stroke-width="2" fill="none"/><circle cx="464.44" cy="634.05" r="8.7" stroke="#000" stroke-width="2" fill="none"/><circle cx="468.3" cy="640.35" r="8.7" stroke="#000" stroke-width="2" fill="none"/><circle cx="472.04" cy="646.45" r="8.7" stroke="#000" stroke-width="2" fill="none"/><circle cx="475.67" cy="652.33" r="8.7" stroke="#000" stroke-width="2" fill="none"/><circle cx="479.2" cy="658.01" r="8.7" stroke="#000" stroke-width="2" fill="none"/><circle cx="482.64" cy="663.49" r="8.7" stroke="#000" stroke-width="2" fill="none"/><circle cx="485.98" cy="668.78" r="8.7" stroke="#000" stroke-width="2" fill="none"/><circle cx="489.24" cy="673.9" r="8.7" stroke="#000" stroke-width="2" fill="none"/><circle cx="492.41" cy="678.83" r="8.7" stroke="#000" stroke-width="2" fill="none"/><circle cx="495.5" cy="683.6" r="8.7" stroke="#000" stroke-width="2" fill="none"/><circle cx="498.52" cy="688.2" r="8.7" stroke="#000" stroke-width="2" fill="none"/><circle cx="501.47" cy="692.64" r="8.7" stroke="#000" stroke-width="2" fill="none"/><circle cx="504.36" cy="696.93" r="8.7" stroke="#000" stroke-width="2" fill="none"/><circle cx="507.17" cy="701.07" r="8.7" stroke="#000" stroke-width="2" fill="none"/><circle cx="509.93" cy="705.06" r="8.7" stroke="#000" stroke-width="2" fill="none"/><circle cx="512.62" cy="708.92" r="8.7" stroke="#000" stroke-width="2" fill="none"/><circle cx="515.26" cy="712.64" r="8.7" stroke="#000" stroke-width="2" fill="none"/><circle cx="517.85" cy="716.24" r="8.7" stroke="#000" stroke-width="2" fill="none"/><circle cx="520.38" cy="719.71" r="8.7" stroke="#000" stroke-width="2" fill="none"/><circle cx="522.86" cy="723.05" r="8.7" stroke="#000" stroke-width="2" fill="none"/><circle cx="525.3" cy="726.28" r="8.7" stroke="#000" stroke-width="2" fill="none"/><circle cx="527.69" cy="729.4" r="8.7" stroke="#000" stroke-width="2" fill="none"/><circle cx="530.03" cy="732.4" r="8.7" stroke="#000" stroke-width="2" fill="none"/><circle cx="532.33" cy="735.3" r="8.7" stroke="#000" stroke-width="2" fill="none"/><circle cx="534.59" cy="738.1" r="8.7" stroke="#000" stroke-width="2" fill="none"/><circle cx="536.81" cy="740.79" r="8.7" stroke="#000" stroke-width="2" fill="none"/><circle cx="538.99" cy="743.39" r="8.7" stroke="#000" stroke-width="2" fill="none"/><circle cx="541.13" cy="745.89" r="8.7" stroke="#000" stroke-width="2" fill="none"/><circle cx="543.24" cy="748.3" r="8.7" stroke="#000" stroke-width="2" fill="none"/><circle cx="545.31" cy="750.62" r="8.7" stroke="#000" stroke-width="2" fill="none"/><circle cx="547.35" cy="752.86" r="8.7" stroke="#000" stroke-width="2" fill="none"/><circle cx="549.36" cy="755.01" r="8.7" stroke="#000" stroke-width="2" fill="none"/><circle cx="551.33" cy="757.08" r="8.7" stroke="#000" stroke-width="2" fill="none"/><circle cx="553.28" cy="759.07" r="8.7" stroke="#000" stroke-width="2" fill="none"/><circle cx="555.19" cy="760.99" r="8.7" stroke="#000" stroke-width="2" fill="none"/><circle cx="557.08" cy="762.83" r="8.7" stroke="#000" stroke-width="2" fill="none"/><circle cx="558.93" cy="764.61" r="8.7" stroke="#000" stroke-width="2" fill="none"/><circle cx="560.77" cy="766.33" r="8.7" stroke="#000" stroke-width="2" fill="none"/><circle cx="562.57" cy="767.98" r="8.7" stroke="#000" stroke-width="2" fill="none"/><circle cx="564.35" cy="769.57" r="8.7" stroke="#000" stroke-width="2" fill="none"/><circle cx="566.1" cy="771.1" r="8.7" stroke="#000" stroke-width="2" fill="none"/><circle cx="567.83" cy="772.58" r="8.7" stroke="#000" stroke-width="2" fill="none"/><circle cx="569.54" cy="774.01" r="8.7" stroke="#000" stroke-width="2" fill="none"/><circle cx="571.22" cy="775.39" r="8.7" stroke="#000" stroke-width="2" fill="none"/><circle cx="572.88" cy="776.71" r="8.7" stroke="#000" stroke-width="2" fill="none"/><circle cx="574.52" cy="778" r="8.7" stroke="#000" stroke-width="2" fill="none"/><circle cx="576.14" cy="779.23" r="8.7" stroke="#000" stroke-width="2" fill="none"/><circle cx="577.74" cy="780.43" r="8.7" stroke="#000" stroke-width="2" fill="none"/><circle cx="579.31" cy="781.58" r="8.7" stroke="#000" stroke-width="2" fill="none"/><circle cx="580.87" cy="782.7" r="8.7" stroke="#000" stroke-width="2" fill="none"/><circle cx="582.41" cy="783.77" r="8.7" stroke="#000" stroke-width="2" fill="none"/><circle cx="583.93" cy="784.82" r="8.7" stroke="#000" stroke-width="2" fill="none"/><circle cx="585.43" cy="785.82" r="8.7" stroke="#000" stroke-width="2" fill="none"/><circle cx="586.92" cy="786.79" r="8.7" stroke="#000" stroke-width="2" fill="none"/><circle cx="588.38" cy="787.73" r="8.7" stroke="#000" stroke-width="2" fill="none"/><circle cx="589.83" cy="788.64" r="8.7" stroke="#000" stroke-width="2" fill="none"/><circle cx="591.27" cy="789.51" r="8.7" stroke="#000" stroke-width="2" fill="none"/><circle cx="592.68" cy="790.36" r="8.7" stroke="#000" stroke-width="2" fill="none"/><circle cx="594.09" cy="791.18" r="8.7" stroke="#000" stroke-width="2" fill="none"/><circle cx="595.47" cy="791.98" r="8.7" stroke="#000" stroke-width="2" fill="none"/><circle cx="596.84" cy="792.74" r="8.7" stroke="#000" stroke-width="2" fill="none"/><circle cx="598.2" cy="793.48" r="8.7" stroke="#000" stroke-width="2" fill="none"/><circle cx="599.54" cy="794.2" r="8.7" stroke="#000" stroke-width="2" fill="none"/><circle cx="600.87" cy="794.89" r="8.7" stroke="#000" stroke-width="2" fill="none"/><circle cx="602.18" cy="795.57" r="8.7" stroke="#000" stroke-width="2" fill="none"/><circle cx="603.48" cy="796.21" r="8.7" stroke="#000" stroke-width="2" fill="none"/><circle cx="604.77" cy="796.84" r="8.7" stroke="#000" stroke-width="2" fill="none"/><circle cx="606.04" cy="797.45" r="8.7" stroke="#000" stroke-width="2" fill="none"/><circle cx="607.3" cy="798.04" r="8.7" stroke="#000" stroke-width="2" fill="none"/><circle cx="608.55" cy="798.61" r="8.7" stroke="#000" stroke-width="2" fill="none"/><circle cx="609.78" cy="799.16" r="8.7" stroke="#000" stroke-width="2" fill="none"/><circle cx="611.01" cy="799.69" r="8.7" stroke="#000" stroke-width="2" fill="none"/><circle cx="612.22" cy="800.2" r="8.7" stroke="#000" stroke-width="2" fill="none"/><circle cx="613.42" cy="800.7" r="8.7" stroke="#000" stroke-width="2" fill="none"/><circle cx="614.61" cy="801.18" r="8.7" stroke="#000" stroke-width="2" fill="none"/><circle cx="615.78" cy="801.65" r="8.7" stroke="#000" stroke-width="2" fill="none"/><circle cx="616.95" cy="802.1" r="8.7" stroke="#000" stroke-width="2" fill="none"/><circle cx="618.11" cy="802.54" r="8.7" stroke="#000" stroke-width="2" fill="none"/><circle cx="619.25" cy="802.96" r="8.7" stroke="#000" stroke-width="2" fill="none"/><circle cx="620.39" cy="803.37" r="8.7" stroke="#000" stroke-width="2" fill="none"/><circle cx="621.51" cy="803.76" r="8.7" stroke="#000" stroke-width="2" fill="none"/><circle cx="622.63" cy="804.14" r="8.7" stroke="#000" stroke-width="2" fill="none"/><circle cx="623.73" cy="804.51" r="8.7" stroke="#000" stroke-width="2" fill="none"/><circle cx="624.83" cy="804.87" r="8.7" stroke="#000" stroke-width="2" fill="none"/><circle cx="625.91" cy="805.22" r="8.7" stroke="#000" stroke-width="2" fill="none"/><circle cx="626.99" cy="805.55" r="8.7" stroke="#000" stroke-width="2" fill="none"/><circle cx="628.06" cy="805.87" r="8.7" stroke="#000" stroke-width="2" fill="none"/><circle cx="629.12" cy="806.18" r="8.7" stroke="#000" stroke-width="2" fill="none"/><circle cx="630.17" cy="806.49" r="8.7" stroke="#000" stroke-width="2" fill="none"/><circle cx="631.21" cy="806.78" r="8.7" stroke="#000" stroke-width="2" fill="none"/><circle cx="632.24" cy="807.06" r="8.7" stroke="#000" stroke-width="2" fill="none"/><circle cx="633.26" cy="807.33" r="8.7" stroke="#000" stroke-width="2" fill="none"/><circle cx="634.28" cy="807.6" r="8.7" stroke="#000" stroke-width="2" fill="none"/><circle cx="635.29" cy="807.85" r="8.7" stroke="#000" stroke-width="2" fill="none"/><circle cx="636.29" cy="808.09" r="8.7" stroke="#000" stroke-width="2" fill="none"/><circle cx="637.28" cy="808.33" r="8.7" stroke="#000" stroke-width="2" fill="none"/><circle cx="638.26" cy="808.56" r="8.7" stroke="#000" stroke-width="2" fill="none"/><circle cx="639.24" cy="808.78" r="8.7" stroke="#000" stroke-width="2" fill="none"/><circle cx="640.21" cy="808.99" r="8.7" stroke="#000" stroke-width="2" fill="none"/><circle cx="641.17" cy="809.2" r="8.7" stroke="#000" stroke-width="2" fill="none"/><circle cx="642.12" cy="809.4" r="8.7" stroke="#000" stroke-width="2" fill="none"/><circle cx="643.07" cy="809.59" r="8.7" stroke="#000" stroke-width="2" fill="none"/><circle cx="644.01" cy="809.77" r="8.7" stroke="#000" stroke-width="2" fill="none"/><circle cx="644.94" cy="809.95" r="8.7" stroke="#000" stroke-width="2" fill="none"/><circle cx="645.87" cy="810.12" r="8.7" stroke="#000" stroke-width="2" fill="none"/><circle cx="646.78" cy="810.28" r="8.7" stroke="#000" stroke-width="2" fill="none"/><circle cx="647.7" cy="810.44" r="8.7" stroke="#000" stroke-width="2" fill="none"/><circle cx="648.6" cy="810.59" r="8.7" stroke="#000" stroke-width="2" fill="none"/><circle cx="649.5" cy="810.74" r="8.7" stroke="#000" stroke-width="2" fill="none"/><circle cx="650.39" cy="810.88" r="8.7" stroke="#000" stroke-width="2" fill="none"/><circle cx="651.28" cy="811.02" r="8.7" stroke="#000" stroke-width="2" fill="none"/><circle cx="652.16" cy="811.15" r="8.7" stroke="#000" stroke-width="2" fill="none"/><circle cx="653.03" cy="811.27" r="8.7" stroke="#000" stroke-width="2" fill="none"/><circle cx="653.9" cy="811.39" r="8.7" stroke="#000" stroke-width="2" fill="none"/><circle cx="654.76" cy="811.51" r="8.7" stroke="#000" stroke-width="2" fill="none"/><circle cx="655.62" cy="811.62" r="8.7" stroke="#000" stroke-width="2" fill="none"/><circle cx="656.47" cy="811.72" r="8.7" stroke="#000" stroke-width="2" fill="none"/><circle cx="657.32" cy="811.82" r="8.7" stroke="#000" stroke-width="2" fill="none"/><circle cx="658.16" cy="811.92" r="8.7" stroke="#000" stroke-width="2" fill="none"/><circle cx="658.99" cy="812.01" r="8.7" stroke="#000" stroke-width="2" fill="none"/>
<g stroke="#000" stroke-width="1.25" fill="none">
<path d="M74.2 441.5H674.6V812.5H74.2Z"/>
<path d="M74.2 812.5h16.5M674.6 812.5h-16.5M74.2 801.9h8.4M674.6 801.9h-8.4M74.2 791.3h8.4M674.6 791.3h-8.4M74.2 780.7h8.4M674.6 780.7h-8.4M74.2 770.1h8.4M674.6 770.1h-8.4M74.2 759.5h8.4M674.6 759.5h-8.4M74.2 748.9h8.4M674.6 748.9h-8.4M74.2 738.3h8.4M674.6 738.3h-8.4M74.2 727.7h8.4M674.6 727.7h-8.4M74.2 717.1h8.4M674.6 717.1h-8.4M74.2 706.5h16.5M674.6 706.5h-16.5M74.2 695.9h8.4M674.6 695.9h-8.4M74.2 685.3h8.4M674.6 685.3h-8.4M74.2 674.7h8.4M674.6 674.7h-8.4M74.2 664.1h8.4M674.6 664.1h-8.4M74.2 653.5h8.4M674.6 653.5h-8.4M74.2 642.9h8.4M674.6 642.9h-8.4M74.2 632.3h8.4M674.6 632.3h-8.4M74.2 621.7h8.4M674.6 621.7h-8.4M74.2 611.1h8.4M674.6 611.1h-8.4M74.2 600.5h16.5M674.6 600.5h-16.5M74.2 589.9h8.4M674.6 589.9h-8.4M74.2 579.3h8.4M674.6 579.3h-8.4M74.2 568.7h8.4M674.6 568.7h-8.4M74.2 558.1h8.4M674.6 558.1h-8.4M74.2 547.5h8.4M674.6 547.5h-8.4M74.2 536.9h8.4M674.6 536.9h-8.4M74.2 526.3h8.4M674.6 526.3h-8.4M74.2 515.7h8.4M674.6 515.7h-8.4M74.2 505.1h8.4M674.6 505.1h-8.4M74.2 494.5h16.5M674.6 494.5h-16.5M74.2 483.9h8.4M674.6 483.9h-8.4M74.2 473.3h8.4M674.6 473.3h-8.4M74.2 462.7h8.4M674.6 462.7h-8.4M74.2 452.1h8.4M674.6 452.1h-8.4M161.17 812.5v-8.2M161.17 441.5v8.2M212.04 812.5v-8.2M212.04 441.5v8.2M248.14 812.5v-8.2M248.14 441.5v8.2M276.13 812.5v-8.2M276.13 441.5v8.2M299.01 812.5v-8.2M299.01 441.5v8.2M318.35 812.5v-8.2M318.35 441.5v8.2M335.1 812.5v-8.2M335.1 441.5v8.2M349.88 812.5v-8.2M349.88 441.5v8.2M363.1 812.5v-16.5M363.1 441.5v16.5M450.07 812.5v-8.2M450.07 441.5v8.2M500.94 812.5v-8.2M500.94 441.5v8.2M537.04 812.5v-8.2M537.04 441.5v8.2M565.03 812.5v-8.2M565.03 441.5v8.2M587.91 812.5v-8.2M587.91 441.5v8.2M607.25 812.5v-8.2M607.25 441.5v8.2M624 812.5v-8.2M624 441.5v8.2M638.78 812.5v-8.2M638.78 441.5v8.2M652 812.5v-16.5M652 441.5v16.5"/>
</g>
<g font-size="20.5" fill="#000">
<text x="67.4" y="501.9" text-anchor="end">3.0</text>
<text x="67.4" y="607.9" text-anchor="end">2.0</text>
<text x="67.4" y="713.9" text-anchor="end">1.0</text>
<text x="67.4" y="819.9" text-anchor="end">0.0</text>
<text x="74.4" y="836.6" text-anchor="middle">0.1</text>
<text x="365.8" y="836.6" text-anchor="middle">1</text>
<text x="658.4" y="836.6" text-anchor="middle">10</text>
</g>
<text x="-1" y="449.6" font-size="29" font-weight="bold">c</text>
<text x="339" y="868.5" font-size="20.5"><tspan style="font-family:'Liberation Serif',serif">&#969;</tspan>/<tspan style="font-family:'Liberation Serif',serif">&#969;</tspan><tspan font-size="14.5" dy="5.6">BP</tspan></text>
<g transform="translate(20.8,690.3) rotate(-90)"><text x="0" y="0" font-size="20.5"><tspan font-style="italic">D</tspan><tspan font-size="14" dy="4">ex</tspan><tspan dy="-4">(</tspan><tspan style="font-family:'Liberation Serif',serif">&#969;</tspan>)/(A<tspan font-size="14" dy="4">D</tspan><tspan dy="-4" style="font-family:'Liberation Serif',serif">&#969;</tspan><tspan font-size="14" dy="-8">2</tspan><tspan dy="8">)</tspan></text></g>
<circle cx="520.3" cy="482.2" r="8.7" stroke="#000" stroke-width="2" fill="none"/>
<path d="M520.3 508.5L528.9 517.1L520.3 525.7L511.7 517.1Z" stroke="#0000ff" stroke-width="2" fill="none"/>
<path d="M520.3 543.67L529 558.73L511.6 558.73Z" stroke="#ff00ff" stroke-width="2" fill="none"/>
<path d="M515.43 578.8L531.37 588L515.43 597.2Z" stroke="#ff0000" stroke-width="2" fill="none"/>
<text x="536.5" y="489.1" font-size="20.5"><tspan font-style="italic">T</tspan><tspan font-size="14.5" dy="5">p</tspan><tspan dy="-5"> = 0.062</tspan></text>
<text x="536.5" y="523.2" font-size="20.5"><tspan font-style="italic">T</tspan><tspan font-size="14.5" dy="5">p</tspan><tspan dy="-5"> = 0.085</tspan></text>
<text x="536.5" y="557.5" font-size="20.5"><tspan font-style="italic">T</tspan><tspan font-size="14.5" dy="5">p</tspan><tspan dy="-5"> = 0.100</tspan></text>
<text x="536.5" y="593.2" font-size="20.5"><tspan font-style="italic">T</tspan><tspan font-size="14.5" dy="5">p</tspan><tspan dy="-5"> = </tspan><tspan style="font-family:'Liberation Serif',serif">&#8734;</tspan></text>
</svg></body></html>
